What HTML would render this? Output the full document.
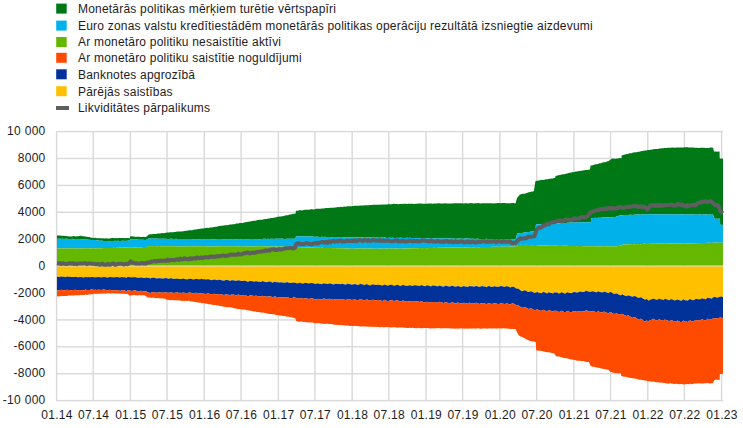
<!DOCTYPE html><html><head><meta charset="utf-8"><style>html,body{margin:0;padding:0;background:#fff;width:743px;height:428px;overflow:hidden}svg{display:block}text{font-family:"Liberation Sans",Arial,sans-serif;font-size:12px;fill:#1c1c1c;letter-spacing:0.2px}</style></head><body>
<svg width="743" height="428" viewBox="0 0 743 428">
<rect x="56.2" y="3.6" width="10.5" height="10" fill="#007816"/>
<text x="78" y="12.9">Monetārās politikas mērķiem turētie vērtspapīri</text>
<rect x="56.2" y="20.6" width="10.5" height="10" fill="#00b1ea"/>
<text x="78" y="29.9">Euro zonas valstu kredītiestādēm monetārās politikas operāciju rezultātā izsniegtie aizdevumi</text>
<rect x="56.2" y="37" width="10.5" height="10" fill="#65b800"/>
<text x="78" y="46.3">Ar monetāro politiku nesaistītie aktīvi</text>
<rect x="56.2" y="52.8" width="10.5" height="10" fill="#ff4b00"/>
<text x="78" y="62.1">Ar monetāro politiku saistītie noguldījumi</text>
<rect x="56.2" y="69.3" width="10.5" height="10" fill="#003299"/>
<text x="78" y="78.6">Banknotes apgrozībā</text>
<rect x="56.2" y="86.2" width="10.5" height="10" fill="#ffc000"/>
<text x="78" y="95.5">Pārējās saistības</text>
<rect x="56" y="106" width="13" height="4" fill="#5e5e5e"/>
<text x="78" y="112">Likviditātes pārpalikums</text>
<rect x="55.9" y="131" width="1.4" height="270" fill="#d9d9d9"/>
<rect x="92.52" y="131" width="1.4" height="270" fill="#d9d9d9"/>
<rect x="129.74" y="131" width="1.4" height="270" fill="#d9d9d9"/>
<rect x="166.36" y="131" width="1.4" height="270" fill="#d9d9d9"/>
<rect x="203.59" y="131" width="1.4" height="270" fill="#d9d9d9"/>
<rect x="240.41" y="131" width="1.4" height="270" fill="#d9d9d9"/>
<rect x="277.63" y="131" width="1.4" height="270" fill="#d9d9d9"/>
<rect x="314.25" y="131" width="1.4" height="270" fill="#d9d9d9"/>
<rect x="351.48" y="131" width="1.4" height="270" fill="#d9d9d9"/>
<rect x="388.1" y="131" width="1.4" height="270" fill="#d9d9d9"/>
<rect x="425.32" y="131" width="1.4" height="270" fill="#d9d9d9"/>
<rect x="461.94" y="131" width="1.4" height="270" fill="#d9d9d9"/>
<rect x="499.17" y="131" width="1.4" height="270" fill="#d9d9d9"/>
<rect x="535.99" y="131" width="1.4" height="270" fill="#d9d9d9"/>
<rect x="573.21" y="131" width="1.4" height="270" fill="#d9d9d9"/>
<rect x="609.83" y="131" width="1.4" height="270" fill="#d9d9d9"/>
<rect x="647.06" y="131" width="1.4" height="270" fill="#d9d9d9"/>
<rect x="683.67" y="131" width="1.4" height="270" fill="#d9d9d9"/>
<rect x="720.9" y="131" width="1.4" height="270" fill="#d9d9d9"/>
<rect x="56.5" y="130.9" width="666.5" height="1.4" fill="#d9d9d9"/>
<rect x="56.5" y="157.8" width="666.5" height="1.4" fill="#d9d9d9"/>
<rect x="56.5" y="184.7" width="666.5" height="1.4" fill="#d9d9d9"/>
<rect x="56.5" y="211.6" width="666.5" height="1.4" fill="#d9d9d9"/>
<rect x="56.5" y="238.5" width="666.5" height="1.4" fill="#d9d9d9"/>
<rect x="56.5" y="265.4" width="666.5" height="1.4" fill="#d9d9d9"/>
<rect x="56.5" y="292.3" width="666.5" height="1.4" fill="#d9d9d9"/>
<rect x="56.5" y="319.2" width="666.5" height="1.4" fill="#d9d9d9"/>
<rect x="56.5" y="346.1" width="666.5" height="1.4" fill="#d9d9d9"/>
<rect x="56.5" y="373" width="666.5" height="1.4" fill="#d9d9d9"/>
<rect x="56.5" y="399.9" width="666.5" height="1.4" fill="#d9d9d9"/>
<path d="M57,235.54 L58.42,235.46 L59.83,235.49 L61.25,235.87 L62.67,235.82 L64.08,236.04 L65.5,235.84 L66.92,236.26 L68.34,236.14 L69.75,236.45 L71.17,236.55 L71.3,236.55 L72.59,236.34 L74,236.08 L75.42,236.41 L76.84,236.16 L78.25,236.28 L79.67,235.95 L81,235.86 L81.09,235.87 L82.51,236.36 L83.92,236.36 L85.34,236.48 L86.76,236.78 L88.17,237.08 L88.6,237.06 L89.59,237.1 L91.01,237.64 L91.8,237.79 L92.43,237.81 L93.84,237.91 L95.26,237.8 L96.68,238.13 L98.09,238.25 L99.51,238.34 L100.93,238.17 L102.34,238.41 L103.76,238.34 L104,238.38 L105.18,238.54 L106.6,238.28 L107.6,238.56 L108.01,238.63 L109.43,238.53 L110.85,238.2 L112,238.1 L112.26,238.11 L113.68,238.12 L115.1,238.13 L116.52,237.91 L117.93,238.34 L119.35,238.02 L120.77,238.01 L122.18,237.98 L123.6,238.06 L125.02,238.31 L126.43,237.97 L127.85,238.01 L129.27,238.28 L129.8,238.2 L130.3,236.33 L130.69,236.28 L132.1,236.27 L133.52,236.59 L134.94,236.64 L136.35,236.68 L137.77,236.83 L139.19,236.63 L140.6,237.03 L142.02,237.02 L143.44,236.79 L144.85,236.89 L145.8,237.04 L146.27,236.68 L147.69,235.42 L148.5,234.64 L149.11,234.53 L150.52,234.3 L151.94,234.26 L153.36,233.98 L154.77,234.02 L156.19,233.98 L157.61,233.5 L159.03,233.52 L160.44,233.44 L161.86,233.02 L163.28,233.15 L164.69,233.03 L166.11,232.63 L166.8,232.56 L167.53,232.5 L168.94,232.57 L170.36,232.31 L171.78,232.14 L173.2,232.26 L174.61,232.07 L176.03,231.76 L177.45,231.6 L178.86,231.52 L180,231.46 L180.28,231.43 L181.7,231.49 L183.12,231.23 L184.53,231.09 L185.95,230.86 L187.37,230.69 L188.78,230.15 L190.2,230.17 L191.62,230.18 L193.03,229.98 L194.45,229.49 L195.87,229.38 L197.28,229.29 L198.7,228.99 L200.12,228.87 L201.54,228.49 L202.95,228.46 L204.37,228.31 L204.4,228.3 L205.79,227.89 L207.2,227.74 L208.62,227.9 L210.04,227.61 L211.46,227.48 L212.87,227.14 L214.29,227.01 L215.71,226.84 L217.12,226.64 L218.54,226.06 L219.96,226.12 L221.37,225.75 L222.79,225.73 L224.21,225.35 L225.63,225.26 L227.04,225.23 L228.46,224.89 L229.88,224.52 L231.29,224.44 L232.71,224.19 L234.13,224.22 L235.54,223.72 L236.96,223.52 L238.38,223.47 L239.8,223.04 L241.2,223.04 L241.21,223.04 L242.63,222.97 L244.05,222.54 L245.46,222.2 L246.88,222.06 L248.3,221.85 L249.72,221.45 L251.13,221.21 L252.55,220.98 L253.97,220.82 L255.38,220.64 L256.8,220.36 L258.22,220.1 L259.63,219.8 L261.05,219.77 L262.47,219.67 L263.88,219.34 L265.3,219.09 L266.72,218.89 L268.14,218.46 L269.55,218.46 L270.97,218.11 L272.39,217.92 L273.8,217.72 L275.22,217.42 L276.64,217.12 L278.06,216.86 L278.5,216.78 L279.47,216.6 L280.89,216.46 L282.31,216.15 L283.72,215.97 L285,215.51 L285.14,215.45 L286.56,215.29 L287.97,215.21 L289.39,214.62 L290.81,214.45 L292.23,214.11 L293.64,213.71 L295.06,213.71 L295.5,213.52 L296,210.81 L296.48,210.67 L297.89,210.75 L299.31,210.35 L300.73,210.18 L302.14,210.4 L303.56,210.08 L304.98,209.78 L306.4,209.8 L307.81,209.69 L309.23,209.69 L310.65,209.28 L312.06,209.2 L313.48,209.4 L314.9,209.17 L315.6,208.98 L316.31,208.79 L317.73,208.75 L319.15,208.64 L320.57,208.66 L321.98,208.52 L323.4,208.5 L324.82,208.37 L326.23,208.12 L327.65,208.1 L329.07,207.98 L330.49,207.87 L331.9,207.63 L333.32,207.64 L334.74,207.49 L336.15,207.47 L337.57,207 L338.99,207.21 L340.4,206.71 L341.82,206.93 L343.24,206.73 L344.65,206.57 L346.07,206.66 L347.49,206.37 L348.91,206.18 L350.32,206.22 L351.74,206.14 L352.7,205.98 L353.16,205.93 L354.57,205.76 L355.99,205.73 L357.41,205.66 L358.83,205.72 L360.24,205.46 L361.66,205.44 L363.08,205.44 L364.49,205.3 L365.91,205.21 L367.33,205.35 L368.75,205.31 L370.16,205.09 L371.58,205 L373,204.82 L374.41,204.81 L375.83,204.68 L377.25,204.8 L378.66,204.74 L380.08,204.45 L381.5,204.75 L382.92,204.43 L384.33,204.59 L385.75,204.52 L387.17,204.51 L388.58,204.11 L389.5,204.13 L390,204.15 L391.42,204.33 L392.83,203.89 L394.25,203.87 L395.67,204.05 L397.08,203.98 L398.5,204.13 L399.92,204.02 L400,204.01 L401.34,203.9 L402.75,204.08 L404.17,203.86 L405.59,203.84 L407,203.89 L408.42,203.75 L409.84,203.71 L411.25,203.8 L412.67,203.68 L414.09,203.92 L415.51,203.78 L416.92,203.7 L418.34,203.49 L419.76,203.6 L421.17,203.59 L422.59,203.64 L424.01,203.63 L425.43,203.75 L426.84,203.77 L428.26,203.54 L429.68,203.5 L431.09,203.57 L432.51,203.71 L433.93,203.41 L435.35,203.47 L436.76,203.58 L438.18,203.28 L439.6,203.33 L440,203.4 L441.01,203.61 L442.43,203.54 L443.85,203.39 L445.26,203.21 L446.68,203.55 L448.1,203.46 L449.51,203.51 L450.93,203.58 L452.35,203.53 L453.77,203.32 L455.18,203.2 L456.6,203.26 L458.02,203.35 L459.43,203.34 L460.85,203.2 L462.27,203.19 L463.69,203.38 L465.1,203.37 L466.52,203.25 L467.94,203.53 L469.35,203.37 L470.77,203.1 L472.19,203.26 L473.6,203.42 L475.02,203.21 L476.44,203.37 L477.86,203.07 L479.27,203.19 L480.69,203.43 L482.11,203.31 L483.52,203.34 L484.94,203.13 L486.36,203.26 L487.77,203.28 L489.19,203.15 L490.61,203.31 L492.03,203.25 L493.44,203.45 L494.86,203.26 L496.28,203.19 L497.69,203.06 L499.11,203.07 L500.53,203.33 L501.94,203.04 L503.36,203.03 L504.78,203.06 L505,203.08 L506.2,203.21 L507.61,203.34 L509.03,203.25 L510.45,203.33 L511.86,203.01 L513.28,202.99 L514.7,203.32 L515.6,203.19 L516.12,201.21 L517,198.03 L517.53,197.51 L518.95,195.79 L520,194.58 L520.37,194.46 L521.78,194.12 L523.2,193.67 L524.62,193.65 L526.03,193.13 L527.45,192.65 L528.87,192.32 L530.28,191.91 L531.7,191.39 L533.12,191.38 L533.9,191.1 L534.54,186.8 L535.4,181.14 L535.95,181.12 L537.37,180.67 L538.79,180.54 L540.2,180.16 L541.62,179.86 L543.04,180.03 L544.46,179.78 L545.87,179.33 L547.29,179.37 L548.71,179.12 L550.12,178.68 L551.54,178.6 L552.96,178.54 L554.37,178.12 L555.2,178.11 L555.5,176.06 L555.79,176.04 L557.21,175.42 L558.63,175.19 L560.04,175.03 L561.46,174.51 L562.88,174.25 L564.29,174.19 L565.71,173.72 L567.13,173.55 L568.54,173.01 L569.96,172.68 L571.38,172.46 L572.8,172.08 L574.21,172.13 L574.3,172.09 L575.63,171.6 L577.05,171.51 L578.46,171.09 L579.88,171.06 L581.3,170.78 L582.72,170.57 L584.13,170.21 L585.55,170.01 L586.97,170.11 L588.38,169.68 L589.8,169.42 L590,169.38 L590.5,165.68 L591.22,165.48 L592.63,165.17 L594.05,164.79 L595.47,164.34 L596.88,164.26 L598.3,163.76 L599.72,163.32 L601.14,163.2 L602.55,162.57 L603.97,162.29 L605.39,162.18 L606.8,161.51 L608.22,161.3 L608.3,161.28 L609.64,160.37 L611.05,159.21 L611.4,158.87 L612.47,158.62 L613.89,158.67 L615,158.76 L615.31,158.76 L616.72,158.46 L618.14,158.56 L619.56,158.08 L620.97,158.25 L621.5,158.13 L621.6,155.51 L622.39,155.21 L623.81,154.73 L625.23,154.48 L626.64,153.99 L628.06,153.89 L629.48,153.35 L630.89,153.28 L631.3,153.14 L632.31,152.86 L633.73,152.52 L635.14,152.22 L636.56,152.13 L637.98,151.71 L639.4,151.75 L640.81,151.17 L642.23,151.1 L643.65,150.87 L645.06,150.5 L646.48,150.47 L647.9,150.05 L648.5,150 L649.32,149.97 L650.73,149.76 L652.15,149.47 L653.57,149.33 L654.98,149.02 L656.4,148.89 L657.82,149.01 L659.23,148.61 L660.65,148.58 L662.07,148.16 L663.49,148.19 L664,148.1 L664.9,148 L666.32,147.99 L667.74,147.83 L669.15,147.66 L670.57,147.7 L671.99,147.59 L673.4,147.48 L674.82,147.67 L676.24,147.41 L677.65,147.39 L679.07,147.54 L680.4,147.42 L680.49,147.42 L681.91,147.47 L683.32,147.46 L684.74,147.14 L685,147.15 L686.16,147.25 L687.57,147.2 L688.99,147.55 L690.41,147.6 L691.83,147.53 L693.24,147.61 L694.66,147.78 L696.08,147.86 L696.7,147.8 L697.49,147.69 L698.91,147.95 L700.33,147.73 L701.75,147.86 L703.16,147.66 L704.58,147.63 L706,147.98 L707.41,147.9 L708.83,147.89 L710.25,147.6 L711.66,147.6 L713,147.65 L713.08,147.97 L714,151.56 L714.5,151.57 L715.91,151.61 L717.33,151.65 L718.75,151.5 L719.6,151.57 L719.7,158.58 L720.17,158.62 L721.58,158.76 L723,158.56 L723,224.89 L721.58,224.74 L720.17,224.84 L720.1,224.84 L720,218.74 L718.75,218.76 L717.33,218.72 L715.91,218.73 L714.5,218.71 L714.5,218.71 L713.08,214.79 L713,214.58 L711.66,214.71 L710.25,214.44 L708.83,214.68 L707.41,214.44 L706,214.44 L704.58,214.41 L703.16,214.49 L701.75,214.63 L700.33,214.58 L698.91,214.37 L697.49,214.7 L696.08,214.54 L694.66,214.67 L693.24,214.33 L691.83,214.49 L690.41,214.4 L688.99,214.52 L687.57,214.48 L686.16,214.41 L684.74,214.51 L683.32,214.3 L681.91,214.42 L680.49,214.29 L679.07,214.38 L677.65,214.5 L676.24,214.39 L674.82,214.47 L673.4,214.5 L671.99,214.34 L670.57,214.29 L669.15,214.54 L667.74,214.43 L666.32,214.51 L664.9,214.38 L663.49,214.25 L662.07,214.23 L660.65,214.29 L659.23,214.48 L657.82,214.45 L656.4,214.18 L654.98,214.36 L653.57,214.48 L652.15,214.39 L650.73,214.19 L650,214.27 L649.32,214.37 L647.9,214.49 L646.48,214.44 L645.06,214.33 L643.65,214.45 L642.23,214.42 L640.81,214.64 L639.4,214.52 L637.98,214.52 L636.56,214.51 L635.14,214.64 L633.73,214.68 L632.31,214.95 L630.89,214.84 L629.48,214.73 L628.06,215.06 L626.64,214.94 L625.23,215.11 L623.81,215 L622.39,215.26 L622,215.24 L620.97,215.39 L619.56,215.61 L618.14,215.94 L616.72,216.49 L615.31,216.97 L615,217.01 L613.89,216.93 L612.47,217.26 L611.3,217.24 L611.05,217.23 L609.64,217.36 L608.22,217.28 L606.8,217.35 L605.39,217.34 L603.97,217.45 L602.55,217.56 L601.14,217.73 L599.72,217.76 L598.3,217.83 L596.88,218.05 L595.47,217.81 L594.05,217.93 L592.63,218.07 L591.22,218.1 L591.2,218.1 L590.9,222.21 L589.8,222.22 L588.38,222.28 L586.97,222.33 L585.55,222.53 L584.13,222.3 L582.72,222.32 L581.3,222.24 L579.88,222.37 L578.46,222.44 L577.05,222.38 L575.63,222.5 L574.21,222.47 L572.8,222.56 L571.38,222.59 L570.4,222.48 L569.96,222.46 L568.54,222.68 L567.13,222.86 L565.71,222.92 L564.29,222.98 L562.88,222.88 L561.46,223 L560.04,223.18 L558.63,223.27 L557.21,223.4 L555.79,223.52 L554.37,223.57 L554,223.58 L552.96,223.58 L551.54,223.47 L550.12,223.89 L548.71,223.96 L547.29,223.88 L545.87,223.98 L544.46,223.94 L543.04,224.11 L541.62,224.11 L540.2,224.18 L538.79,224.41 L537.37,224.3 L536,224.34 L535.95,224.72 L535.2,231.02 L534.54,231.28 L533.12,231.31 L531.7,231.38 L530.28,231.72 L529.5,231.89 L528.87,232.01 L527.45,231.99 L526.03,232.3 L524.62,232.5 L523.2,232.75 L521.78,232.9 L520.37,233.05 L518.95,233.16 L517.53,233.31 L517.3,233.37 L516.12,237.51 L515.6,239.27 L514.7,239.34 L513.28,239.1 L511.86,239.14 L510.45,239.05 L509.03,239.24 L507.61,239.33 L506.2,239.16 L505,239.3 L504.78,239.32 L503.36,239.06 L501.94,239.15 L500.53,239.11 L499.11,239.19 L497.69,239.22 L496.28,238.98 L494.86,238.91 L493.44,239.16 L492.03,239.17 L490.61,239.02 L489.19,238.88 L487.77,238.93 L486.36,238.79 L484.94,239.11 L483.52,239.05 L482.11,238.98 L480.69,238.91 L479.27,239.02 L477.86,238.74 L476.44,238.8 L475.02,238.9 L473.6,238.74 L472.19,238.81 L470.77,238.66 L469.35,238.87 L467.94,238.6 L466.52,238.55 L465.1,238.57 L463.69,238.72 L462.27,238.79 L460.85,238.63 L459.43,238.53 L458.02,238.53 L456.6,238.66 L455.18,238.74 L453.77,238.43 L452.35,238.66 L450.93,238.55 L449.51,238.37 L448.1,238.53 L446.68,238.31 L445.26,238.54 L443.85,238.6 L442.43,238.51 L441.01,238.36 L439.6,238.25 L438.18,238.49 L436.76,238.42 L435.35,238.43 L433.93,238.26 L432.51,238.39 L431.09,238.17 L429.68,238.4 L428.26,238.4 L426.84,238.26 L425.43,238.35 L424.01,238.24 L422.59,238.32 L421.17,238.14 L419.76,238.22 L418.34,238.06 L416.92,238.01 L415.51,238.13 L414.09,237.9 L412.67,238.01 L411.25,237.94 L409.84,237.86 L408.42,238.1 L407,237.86 L405.59,238.07 L404.17,237.97 L402.75,238.1 L401.34,237.8 L400,237.86 L399.92,237.86 L398.5,238 L397.08,237.73 L395.67,237.93 L394.25,238.02 L392.83,237.69 L391.42,237.9 L390,237.87 L388.58,237.8 L387.17,237.9 L385.75,237.73 L384.33,237.58 L382.92,237.69 L381.5,237.55 L380.08,237.72 L378.66,237.68 L377.25,237.52 L375.83,237.67 L374.41,237.53 L373,237.63 L371.58,237.6 L370.16,237.5 L368.75,237.58 L367.33,237.41 L365.91,237.45 L364.49,237.65 L363.08,237.37 L361.66,237.51 L360.24,237.62 L358.83,237.35 L357.41,237.31 L355.99,237.4 L354.57,237.44 L353.16,237.42 L352.7,237.4 L351.74,237.35 L350.32,237.38 L348.91,237.28 L347.49,237.36 L346.07,237.13 L344.65,237.23 L343.24,237.29 L341.82,237.08 L340.4,237 L338.99,237.28 L337.57,237.06 L336.15,237.02 L334.74,237.11 L333.32,237.03 L331.9,237.17 L330.49,237.01 L329.07,236.88 L327.65,236.97 L326.23,236.96 L324.82,236.72 L323.4,236.96 L321.98,236.86 L320.57,236.96 L319.15,236.94 L317.73,236.87 L316.31,236.86 L315.6,236.86 L314.9,236.86 L313.48,236.65 L312.06,236.58 L310.65,236.47 L309.23,236.49 L307.81,236.53 L306.4,236.58 L304.98,236.52 L303.56,236.44 L302.14,236.37 L300.73,236.62 L299.31,236.57 L297.89,236.49 L296.48,236.39 L296,236.37 L295.5,238.65 L295.06,238.64 L293.64,238.68 L292.23,238.72 L290.81,238.79 L289.39,238.66 L287.97,238.72 L286.56,238.86 L285.14,238.89 L283.72,238.89 L282.31,238.6 L280.89,238.87 L279.47,238.68 L278.5,238.75 L278.06,238.78 L276.64,238.65 L275.22,238.69 L273.8,239.02 L272.39,238.85 L270.97,238.76 L269.55,238.96 L268.14,238.76 L266.72,238.96 L265.3,238.87 L263.88,238.83 L262.47,238.97 L261.05,238.99 L259.63,239.16 L258.22,239.16 L256.8,239.11 L255.38,239.16 L253.97,239.11 L252.55,239.1 L251.13,238.93 L249.72,239.01 L248.3,239.24 L246.88,239.09 L245.46,239.17 L244.05,239.12 L242.63,239.12 L241.21,239.32 L241.2,239.32 L239.8,239.09 L238.38,239.14 L236.96,239.29 L235.54,239.32 L234.13,239.3 L232.71,239.08 L231.29,239.35 L229.88,239.32 L228.46,239.25 L227.04,239.09 L225.63,239.13 L224.21,239.32 L222.79,239.3 L221.37,239.03 L219.96,239.07 L218.54,239.11 L217.12,239.11 L215.71,239.25 L214.29,239.36 L212.87,239.25 L211.46,239.25 L210.04,239.35 L208.62,239.02 L207.2,239.22 L205.79,239.09 L204.4,239.17 L204.37,239.18 L202.95,239.19 L201.54,239.04 L200.12,239.19 L198.7,239.33 L197.28,239.23 L195.87,238.99 L194.45,239.22 L193.03,239.3 L191.62,238.94 L190.2,238.95 L188.78,238.97 L187.37,239.03 L185.95,239.06 L184.53,239 L183.12,238.92 L181.7,239.03 L180.28,239.11 L178.86,238.92 L177.45,238.94 L176.03,238.85 L175,238.88 L174.61,238.89 L173.2,238.92 L171.78,238.86 L170.36,238.77 L168.94,239 L167.53,238.95 L166.11,238.82 L164.69,238.84 L163.28,238.84 L161.86,238.63 L160.44,238.82 L159.03,238.72 L157.61,238.79 L156.19,238.59 L154.77,238.64 L153.36,238.46 L151.94,238.7 L150.52,238.47 L149.11,238.46 L148.5,238.54 L147.69,239.08 L146.27,239.64 L145.8,239.89 L144.85,239.88 L143.44,239.75 L142.02,239.71 L140.6,239.83 L139.19,239.8 L137.77,239.56 L136.35,239.59 L134.94,239.51 L133.52,239.55 L132.1,239.5 L130.69,239.35 L130.3,239.36 L129.8,240.58 L129.27,240.62 L127.85,240.74 L126.43,240.79 L125.02,240.92 L123.6,240.79 L122.18,240.7 L120.77,240.91 L119.35,240.89 L117.93,240.67 L116.52,240.94 L115.1,240.73 L113.68,241.04 L112.26,240.9 L112,240.9 L110.85,240.95 L109.43,241.15 L108.01,241.01 L107.6,241.08 L106.6,241.1 L105.18,241.04 L103.76,241 L102.34,240.85 L100.93,240.71 L99.51,240.68 L98.09,240.38 L96.68,240.45 L95.26,240.02 L93.84,239.97 L92.43,240.05 L91.01,239.9 L89.7,239.67 L89.59,239.66 L88.17,239.68 L86.76,239.38 L85.34,239.54 L83.92,239.52 L82.51,239.18 L81.09,239.31 L81,239.29 L79.67,239.03 L78.25,239.05 L76.84,238.95 L75.42,239.12 L74,239.18 L72.59,238.86 L71.17,238.92 L69.75,239.07 L68.34,239.06 L66.92,238.73 L65.5,238.82 L64.08,238.91 L62.67,238.79 L61.25,238.7 L59.83,238.84 L58.42,238.75 L57,238.82Z" fill="#007816"/>
<path d="M57,238.82 L58.42,238.75 L59.83,238.84 L61.25,238.7 L62.67,238.79 L64.08,238.91 L65.5,238.82 L66.92,238.73 L68.34,239.06 L69.75,239.07 L71.17,238.92 L72.59,238.86 L74,239.18 L75.42,239.12 L76.84,238.95 L78.25,239.05 L79.67,239.03 L81,239.29 L81.09,239.31 L82.51,239.18 L83.92,239.52 L85.34,239.54 L86.76,239.38 L88.17,239.68 L89.59,239.66 L89.7,239.67 L91.01,239.9 L92.43,240.05 L93.84,239.97 L95.26,240.02 L96.68,240.45 L98.09,240.38 L99.51,240.68 L100.93,240.71 L102.34,240.85 L103.76,241 L105.18,241.04 L106.6,241.1 L107.6,241.08 L108.01,241.01 L109.43,241.15 L110.85,240.95 L112,240.9 L112.26,240.9 L113.68,241.04 L115.1,240.73 L116.52,240.94 L117.93,240.67 L119.35,240.89 L120.77,240.91 L122.18,240.7 L123.6,240.79 L125.02,240.92 L126.43,240.79 L127.85,240.74 L129.27,240.62 L129.8,240.58 L130.3,239.36 L130.69,239.35 L132.1,239.5 L133.52,239.55 L134.94,239.51 L136.35,239.59 L137.77,239.56 L139.19,239.8 L140.6,239.83 L142.02,239.71 L143.44,239.75 L144.85,239.88 L145.8,239.89 L146.27,239.64 L147.69,239.08 L148.5,238.54 L149.11,238.46 L150.52,238.47 L151.94,238.7 L153.36,238.46 L154.77,238.64 L156.19,238.59 L157.61,238.79 L159.03,238.72 L160.44,238.82 L161.86,238.63 L163.28,238.84 L164.69,238.84 L166.11,238.82 L167.53,238.95 L168.94,239 L170.36,238.77 L171.78,238.86 L173.2,238.92 L174.61,238.89 L175,238.88 L176.03,238.85 L177.45,238.94 L178.86,238.92 L180.28,239.11 L181.7,239.03 L183.12,238.92 L184.53,239 L185.95,239.06 L187.37,239.03 L188.78,238.97 L190.2,238.95 L191.62,238.94 L193.03,239.3 L194.45,239.22 L195.87,238.99 L197.28,239.23 L198.7,239.33 L200.12,239.19 L201.54,239.04 L202.95,239.19 L204.37,239.18 L204.4,239.17 L205.79,239.09 L207.2,239.22 L208.62,239.02 L210.04,239.35 L211.46,239.25 L212.87,239.25 L214.29,239.36 L215.71,239.25 L217.12,239.11 L218.54,239.11 L219.96,239.07 L221.37,239.03 L222.79,239.3 L224.21,239.32 L225.63,239.13 L227.04,239.09 L228.46,239.25 L229.88,239.32 L231.29,239.35 L232.71,239.08 L234.13,239.3 L235.54,239.32 L236.96,239.29 L238.38,239.14 L239.8,239.09 L241.2,239.32 L241.21,239.32 L242.63,239.12 L244.05,239.12 L245.46,239.17 L246.88,239.09 L248.3,239.24 L249.72,239.01 L251.13,238.93 L252.55,239.1 L253.97,239.11 L255.38,239.16 L256.8,239.11 L258.22,239.16 L259.63,239.16 L261.05,238.99 L262.47,238.97 L263.88,238.83 L265.3,238.87 L266.72,238.96 L268.14,238.76 L269.55,238.96 L270.97,238.76 L272.39,238.85 L273.8,239.02 L275.22,238.69 L276.64,238.65 L278.06,238.78 L278.5,238.75 L279.47,238.68 L280.89,238.87 L282.31,238.6 L283.72,238.89 L285.14,238.89 L286.56,238.86 L287.97,238.72 L289.39,238.66 L290.81,238.79 L292.23,238.72 L293.64,238.68 L295.06,238.64 L295.5,238.65 L296,236.37 L296.48,236.39 L297.89,236.49 L299.31,236.57 L300.73,236.62 L302.14,236.37 L303.56,236.44 L304.98,236.52 L306.4,236.58 L307.81,236.53 L309.23,236.49 L310.65,236.47 L312.06,236.58 L313.48,236.65 L314.9,236.86 L315.6,236.86 L316.31,236.86 L317.73,236.87 L319.15,236.94 L320.57,236.96 L321.98,236.86 L323.4,236.96 L324.82,236.72 L326.23,236.96 L327.65,236.97 L329.07,236.88 L330.49,237.01 L331.9,237.17 L333.32,237.03 L334.74,237.11 L336.15,237.02 L337.57,237.06 L338.99,237.28 L340.4,237 L341.82,237.08 L343.24,237.29 L344.65,237.23 L346.07,237.13 L347.49,237.36 L348.91,237.28 L350.32,237.38 L351.74,237.35 L352.7,237.4 L353.16,237.42 L354.57,237.44 L355.99,237.4 L357.41,237.31 L358.83,237.35 L360.24,237.62 L361.66,237.51 L363.08,237.37 L364.49,237.65 L365.91,237.45 L367.33,237.41 L368.75,237.58 L370.16,237.5 L371.58,237.6 L373,237.63 L374.41,237.53 L375.83,237.67 L377.25,237.52 L378.66,237.68 L380.08,237.72 L381.5,237.55 L382.92,237.69 L384.33,237.58 L385.75,237.73 L387.17,237.9 L388.58,237.8 L390,237.87 L391.42,237.9 L392.83,237.69 L394.25,238.02 L395.67,237.93 L397.08,237.73 L398.5,238 L399.92,237.86 L400,237.86 L401.34,237.8 L402.75,238.1 L404.17,237.97 L405.59,238.07 L407,237.86 L408.42,238.1 L409.84,237.86 L411.25,237.94 L412.67,238.01 L414.09,237.9 L415.51,238.13 L416.92,238.01 L418.34,238.06 L419.76,238.22 L421.17,238.14 L422.59,238.32 L424.01,238.24 L425.43,238.35 L426.84,238.26 L428.26,238.4 L429.68,238.4 L431.09,238.17 L432.51,238.39 L433.93,238.26 L435.35,238.43 L436.76,238.42 L438.18,238.49 L439.6,238.25 L441.01,238.36 L442.43,238.51 L443.85,238.6 L445.26,238.54 L446.68,238.31 L448.1,238.53 L449.51,238.37 L450.93,238.55 L452.35,238.66 L453.77,238.43 L455.18,238.74 L456.6,238.66 L458.02,238.53 L459.43,238.53 L460.85,238.63 L462.27,238.79 L463.69,238.72 L465.1,238.57 L466.52,238.55 L467.94,238.6 L469.35,238.87 L470.77,238.66 L472.19,238.81 L473.6,238.74 L475.02,238.9 L476.44,238.8 L477.86,238.74 L479.27,239.02 L480.69,238.91 L482.11,238.98 L483.52,239.05 L484.94,239.11 L486.36,238.79 L487.77,238.93 L489.19,238.88 L490.61,239.02 L492.03,239.17 L493.44,239.16 L494.86,238.91 L496.28,238.98 L497.69,239.22 L499.11,239.19 L500.53,239.11 L501.94,239.15 L503.36,239.06 L504.78,239.32 L505,239.3 L506.2,239.16 L507.61,239.33 L509.03,239.24 L510.45,239.05 L511.86,239.14 L513.28,239.1 L514.7,239.34 L515.6,239.27 L516.12,237.51 L517.3,233.37 L517.53,233.31 L518.95,233.16 L520.37,233.05 L521.78,232.9 L523.2,232.75 L524.62,232.5 L526.03,232.3 L527.45,231.99 L528.87,232.01 L529.5,231.89 L530.28,231.72 L531.7,231.38 L533.12,231.31 L534.54,231.28 L535.2,231.02 L535.95,224.72 L536,224.34 L537.37,224.3 L538.79,224.41 L540.2,224.18 L541.62,224.11 L543.04,224.11 L544.46,223.94 L545.87,223.98 L547.29,223.88 L548.71,223.96 L550.12,223.89 L551.54,223.47 L552.96,223.58 L554,223.58 L554.37,223.57 L555.79,223.52 L557.21,223.4 L558.63,223.27 L560.04,223.18 L561.46,223 L562.88,222.88 L564.29,222.98 L565.71,222.92 L567.13,222.86 L568.54,222.68 L569.96,222.46 L570.4,222.48 L571.38,222.59 L572.8,222.56 L574.21,222.47 L575.63,222.5 L577.05,222.38 L578.46,222.44 L579.88,222.37 L581.3,222.24 L582.72,222.32 L584.13,222.3 L585.55,222.53 L586.97,222.33 L588.38,222.28 L589.8,222.22 L590.9,222.21 L591.2,218.1 L591.22,218.1 L592.63,218.07 L594.05,217.93 L595.47,217.81 L596.88,218.05 L598.3,217.83 L599.72,217.76 L601.14,217.73 L602.55,217.56 L603.97,217.45 L605.39,217.34 L606.8,217.35 L608.22,217.28 L609.64,217.36 L611.05,217.23 L611.3,217.24 L612.47,217.26 L613.89,216.93 L615,217.01 L615.31,216.97 L616.72,216.49 L618.14,215.94 L619.56,215.61 L620.97,215.39 L622,215.24 L622.39,215.26 L623.81,215 L625.23,215.11 L626.64,214.94 L628.06,215.06 L629.48,214.73 L630.89,214.84 L632.31,214.95 L633.73,214.68 L635.14,214.64 L636.56,214.51 L637.98,214.52 L639.4,214.52 L640.81,214.64 L642.23,214.42 L643.65,214.45 L645.06,214.33 L646.48,214.44 L647.9,214.49 L649.32,214.37 L650,214.27 L650.73,214.19 L652.15,214.39 L653.57,214.48 L654.98,214.36 L656.4,214.18 L657.82,214.45 L659.23,214.48 L660.65,214.29 L662.07,214.23 L663.49,214.25 L664.9,214.38 L666.32,214.51 L667.74,214.43 L669.15,214.54 L670.57,214.29 L671.99,214.34 L673.4,214.5 L674.82,214.47 L676.24,214.39 L677.65,214.5 L679.07,214.38 L680.49,214.29 L681.91,214.42 L683.32,214.3 L684.74,214.51 L686.16,214.41 L687.57,214.48 L688.99,214.52 L690.41,214.4 L691.83,214.49 L693.24,214.33 L694.66,214.67 L696.08,214.54 L697.49,214.7 L698.91,214.37 L700.33,214.58 L701.75,214.63 L703.16,214.49 L704.58,214.41 L706,214.44 L707.41,214.44 L708.83,214.68 L710.25,214.44 L711.66,214.71 L713,214.58 L713.08,214.79 L714.5,218.71 L714.5,218.71 L715.91,218.73 L717.33,218.72 L718.75,218.76 L720,218.74 L720.1,224.84 L720.17,224.84 L721.58,224.74 L723,224.89 L723,242.63 L721.58,242.49 L720.17,242.71 L718.75,242.63 L717.33,242.49 L715.91,242.8 L714.5,242.62 L713.08,242.84 L711.66,242.89 L710.25,242.73 L708.83,242.73 L707.41,242.75 L706,242.91 L704.58,242.97 L703.16,243.08 L701.75,243 L700.33,242.91 L698.91,243.2 L697.49,243.1 L696.08,243.21 L694.66,243.13 L693.24,243.14 L691.83,243.25 L690.41,243.4 L688.99,243.45 L687.57,243.47 L686.16,243.26 L685,243.46 L684.74,243.5 L683.32,243.3 L681.91,243.49 L680.49,243.43 L679.07,243.53 L677.65,243.47 L676.24,243.37 L674.82,243.53 L673.4,243.44 L671.99,243.59 L670.57,243.52 L669.15,243.43 L667.74,243.56 L666.32,243.75 L664.9,243.71 L663.49,243.53 L662.07,243.75 L660.65,243.61 L659.23,243.81 L657.82,243.59 L656.4,243.73 L654.98,243.68 L653.57,243.77 L652.15,243.68 L650.73,243.71 L649.32,243.89 L648.6,243.78 L647.9,243.68 L646.48,243.92 L645.06,243.76 L643.65,243.83 L642.23,244.03 L640.81,244.13 L639.4,243.98 L637.98,244.14 L636.56,244.1 L635.14,244.3 L633.73,244.29 L632.31,244.12 L630.89,244.16 L629.48,244.23 L628.06,244.48 L626.64,244.29 L625.23,244.54 L623.81,244.39 L622.8,244.43 L622.39,244.68 L621.3,245.43 L620.97,245.5 L619.56,245.73 L618.14,245.9 L616.72,246.22 L615.31,246.37 L615,246.44 L613.89,246.52 L612.47,246.29 L611.05,246.4 L609.64,246.23 L608.22,246.46 L606.8,246.21 L605.39,246.37 L603.97,246.3 L602.55,246.18 L601.14,246.41 L599.72,246.27 L598.3,246.41 L596.88,246.26 L595.47,246.29 L594.05,246.34 L592.63,246.3 L591.22,246.17 L589.8,246.31 L588.38,246.14 L587,246.15 L586.97,246.15 L585.55,246.2 L584.13,246.13 L582.72,246.14 L581.3,246.05 L579.88,245.95 L578.46,246.08 L577.05,246.17 L575.63,245.93 L574.21,246.09 L572.8,245.93 L571.38,245.98 L569.96,245.92 L568.54,245.89 L567.13,245.84 L565.71,245.87 L564.29,245.7 L562.88,245.72 L561.46,245.72 L560.04,245.88 L558.63,245.84 L557.21,245.83 L555.79,245.64 L554.37,245.54 L552.96,245.63 L551.54,245.64 L550.12,245.63 L548.71,245.69 L547.29,245.49 L545.87,245.49 L544.46,245.45 L543.04,245.43 L541.62,245.62 L540.2,245.3 L538.79,245.43 L537.37,245.36 L537,245.34 L535.95,245.08 L535,245.04 L534.54,245.11 L533.12,245.1 L531.7,245.15 L530.28,245.03 L528.87,244.98 L527.45,245.06 L526.03,244.87 L524.62,244.99 L523.2,245.06 L521.78,245.05 L520.37,244.87 L518.95,245.02 L518,245.06 L517.53,245.39 L516.12,246.13 L515.6,246.48 L514.7,246.48 L513.28,246.7 L511.86,246.47 L510.45,246.52 L509.03,246.49 L507.61,246.68 L506.2,246.68 L505,246.63 L504.78,246.62 L503.36,246.68 L501.94,246.52 L500.53,246.65 L499.11,246.78 L497.69,246.78 L496.28,246.86 L494.86,246.79 L493.44,246.81 L492.03,246.82 L490.61,246.98 L489.19,246.88 L487.77,246.89 L486.36,247.04 L484.94,246.95 L483.52,246.98 L482.11,247.04 L480.69,246.9 L479.27,247.14 L477.86,247.21 L476.44,247.12 L475.02,247.15 L473.6,247.13 L472.19,247.27 L470.77,247.09 L469.35,247.2 L467.94,247.32 L466.52,247.26 L465.1,247.39 L463.69,247.49 L462.27,247.28 L460.85,247.53 L459.43,247.45 L458.02,247.42 L456.6,247.44 L455.18,247.6 L453.77,247.58 L452.35,247.53 L450.93,247.52 L450,247.62 L449.51,247.67 L448.1,247.6 L446.68,247.65 L445.26,247.56 L443.85,247.68 L442.43,247.79 L441.01,247.87 L439.6,247.79 L438.18,247.75 L436.76,247.97 L435.35,247.93 L433.93,247.8 L432.51,248.05 L431.09,247.9 L429.68,247.95 L428.26,247.97 L426.84,248.13 L425.43,248 L424.01,247.99 L422.59,248.17 L421.17,248.09 L419.76,248.06 L418.34,248.2 L416.92,248.21 L415.51,248.25 L414.09,248.24 L412.67,248.35 L411.25,248.33 L409.84,248.46 L408.42,248.33 L407,248.54 L405.59,248.58 L404.17,248.51 L402.75,248.53 L401.34,248.63 L400,248.74 L399.92,248.75 L398.5,248.57 L397.08,248.48 L395.67,248.59 L394.25,248.61 L392.83,248.69 L391.42,248.56 L390,248.48 L388.58,248.53 L387.17,248.5 L385.75,248.49 L384.33,248.7 L382.92,248.7 L381.5,248.56 L380.08,248.46 L378.66,248.71 L377.25,248.72 L375.83,248.7 L374.41,248.64 L373,248.59 L371.58,248.7 L370.16,248.5 L368.75,248.52 L367.33,248.69 L365.91,248.61 L364.49,248.61 L363.08,248.61 L361.66,248.73 L360.24,248.49 L358.83,248.52 L357.41,248.59 L355.99,248.61 L354.57,248.67 L353.16,248.59 L352.7,248.63 L351.74,248.7 L350.32,248.47 L348.91,248.53 L347.49,248.38 L346.07,248.43 L344.65,248.42 L343.24,248.29 L341.82,248.36 L340.4,248.3 L338.99,248.24 L337.57,248.16 L336.15,248.22 L334.74,248.08 L333.32,248.15 L331.9,248.08 L330.49,247.92 L329.07,248.11 L327.65,247.95 L326.23,247.89 L324.82,247.95 L323.4,247.88 L321.98,247.62 L320.57,247.88 L319.15,247.64 L317.73,247.67 L316.31,247.66 L315.6,247.6 L314.9,247.53 L313.48,247.6 L312.06,247.38 L310.65,247.6 L309.23,247.52 L307.81,247.51 L306.4,247.25 L304.98,247.24 L303.56,247.22 L302.14,247.22 L300.73,247.26 L299.31,247.12 L297.89,247.28 L296.48,247.15 L295.8,247.05 L295.06,246.92 L293.64,247.16 L292.23,246.85 L290.81,246.87 L289.39,246.81 L287.97,246.75 L286.56,246.87 L285.14,246.64 L283.72,246.56 L282.31,246.52 L280.89,246.56 L279.47,246.55 L278.5,246.53 L278.06,246.54 L276.64,246.46 L275.22,246.41 L273.8,246.41 L272.39,246.45 L270.97,246.46 L269.55,246.25 L268.14,246.36 L266.72,246.42 L265.3,246.37 L263.88,246.4 L262.47,246.26 L261.05,246.27 L259.63,246.33 L258.22,246.3 L256.8,246.33 L255.38,246.47 L253.97,246.51 L252.55,246.54 L251.13,246.31 L249.72,246.35 L248.3,246.53 L246.88,246.4 L245.46,246.36 L244.05,246.28 L242.63,246.4 L241.21,246.47 L241.2,246.47 L239.8,246.29 L238.38,246.45 L236.96,246.29 L235.54,246.36 L234.13,246.27 L232.71,246.37 L231.29,246.26 L229.88,246.48 L228.46,246.31 L227.04,246.51 L225.63,246.21 L224.21,246.24 L222.79,246.33 L221.37,246.27 L219.96,246.34 L218.54,246.2 L217.12,246.39 L215.71,246.42 L214.29,246.25 L212.87,246.18 L211.46,246.46 L210.04,246.43 L208.62,246.38 L207.2,246.43 L205.79,246.26 L204.4,246.18 L204.37,246.18 L202.95,246.35 L201.54,246.2 L200.12,246.18 L198.7,246.37 L197.28,246.2 L195.87,246.42 L194.45,246.15 L193.03,246.44 L191.62,246.18 L190.2,246.16 L188.78,246.24 L187.37,246.45 L185.95,246.41 L184.53,246.2 L183.12,246.41 L181.7,246.38 L180.28,246.26 L178.86,246.42 L177.45,246.21 L176.03,246.41 L175,246.35 L174.61,246.32 L173.2,246.27 L171.78,246.3 L170.36,246.32 L168.94,246.15 L167.53,246.36 L166.11,246.23 L164.69,246.17 L163.28,246.15 L161.86,246.3 L160.44,246.27 L159.03,246.11 L157.61,246.28 L156.19,246.27 L154.77,246.04 L153.36,246.16 L151.94,246.04 L150.52,246.26 L149.11,246.04 L148.5,246.08 L147.69,246.44 L146.27,247 L145.8,247.12 L144.85,247.03 L143.44,247.07 L142.02,247.15 L140.6,247.13 L139.19,247.16 L137.77,247.17 L136.35,247.32 L134.94,247.45 L133.52,247.47 L132.1,247.34 L130.69,247.42 L130.5,247.4 L129.27,247.3 L127.85,247.58 L126.43,247.48 L125.02,247.59 L123.6,247.45 L122.18,247.69 L120.77,247.54 L119.35,247.82 L117.93,247.68 L116.52,247.76 L115.1,247.9 L113.68,247.8 L112.26,247.93 L110.85,247.92 L109.43,248.11 L108.01,247.92 L106.6,248.12 L105.18,247.93 L103.76,248.01 L102.34,248.28 L100.93,248.26 L99.51,248.13 L98.09,248.16 L96.68,248.26 L95.26,248.47 L93.84,248.28 L93,248.37 L92.43,248.42 L91.01,248.4 L89.59,248.27 L88.17,248.29 L86.76,248.26 L85.34,248.28 L83.92,248.48 L82.51,248.32 L81.09,248.55 L79.67,248.36 L78.25,248.48 L76.84,248.45 L75.42,248.39 L74,248.25 L72.59,248.29 L71.17,248.53 L69.75,248.41 L68.34,248.33 L66.92,248.39 L65.5,248.54 L64.08,248.48 L62.67,248.34 L61.25,248.48 L59.83,248.48 L58.42,248.46 L57,248.33Z" fill="#00b1ea"/>
<path d="M57,248.33 L58.42,248.46 L59.83,248.48 L61.25,248.48 L62.67,248.34 L64.08,248.48 L65.5,248.54 L66.92,248.39 L68.34,248.33 L69.75,248.41 L71.17,248.53 L72.59,248.29 L74,248.25 L75.42,248.39 L76.84,248.45 L78.25,248.48 L79.67,248.36 L81.09,248.55 L82.51,248.32 L83.92,248.48 L85.34,248.28 L86.76,248.26 L88.17,248.29 L89.59,248.27 L91.01,248.4 L92.43,248.42 L93,248.37 L93.84,248.28 L95.26,248.47 L96.68,248.26 L98.09,248.16 L99.51,248.13 L100.93,248.26 L102.34,248.28 L103.76,248.01 L105.18,247.93 L106.6,248.12 L108.01,247.92 L109.43,248.11 L110.85,247.92 L112.26,247.93 L113.68,247.8 L115.1,247.9 L116.52,247.76 L117.93,247.68 L119.35,247.82 L120.77,247.54 L122.18,247.69 L123.6,247.45 L125.02,247.59 L126.43,247.48 L127.85,247.58 L129.27,247.3 L130.5,247.4 L130.69,247.42 L132.1,247.34 L133.52,247.47 L134.94,247.45 L136.35,247.32 L137.77,247.17 L139.19,247.16 L140.6,247.13 L142.02,247.15 L143.44,247.07 L144.85,247.03 L145.8,247.12 L146.27,247 L147.69,246.44 L148.5,246.08 L149.11,246.04 L150.52,246.26 L151.94,246.04 L153.36,246.16 L154.77,246.04 L156.19,246.27 L157.61,246.28 L159.03,246.11 L160.44,246.27 L161.86,246.3 L163.28,246.15 L164.69,246.17 L166.11,246.23 L167.53,246.36 L168.94,246.15 L170.36,246.32 L171.78,246.3 L173.2,246.27 L174.61,246.32 L175,246.35 L176.03,246.41 L177.45,246.21 L178.86,246.42 L180.28,246.26 L181.7,246.38 L183.12,246.41 L184.53,246.2 L185.95,246.41 L187.37,246.45 L188.78,246.24 L190.2,246.16 L191.62,246.18 L193.03,246.44 L194.45,246.15 L195.87,246.42 L197.28,246.2 L198.7,246.37 L200.12,246.18 L201.54,246.2 L202.95,246.35 L204.37,246.18 L204.4,246.18 L205.79,246.26 L207.2,246.43 L208.62,246.38 L210.04,246.43 L211.46,246.46 L212.87,246.18 L214.29,246.25 L215.71,246.42 L217.12,246.39 L218.54,246.2 L219.96,246.34 L221.37,246.27 L222.79,246.33 L224.21,246.24 L225.63,246.21 L227.04,246.51 L228.46,246.31 L229.88,246.48 L231.29,246.26 L232.71,246.37 L234.13,246.27 L235.54,246.36 L236.96,246.29 L238.38,246.45 L239.8,246.29 L241.2,246.47 L241.21,246.47 L242.63,246.4 L244.05,246.28 L245.46,246.36 L246.88,246.4 L248.3,246.53 L249.72,246.35 L251.13,246.31 L252.55,246.54 L253.97,246.51 L255.38,246.47 L256.8,246.33 L258.22,246.3 L259.63,246.33 L261.05,246.27 L262.47,246.26 L263.88,246.4 L265.3,246.37 L266.72,246.42 L268.14,246.36 L269.55,246.25 L270.97,246.46 L272.39,246.45 L273.8,246.41 L275.22,246.41 L276.64,246.46 L278.06,246.54 L278.5,246.53 L279.47,246.55 L280.89,246.56 L282.31,246.52 L283.72,246.56 L285.14,246.64 L286.56,246.87 L287.97,246.75 L289.39,246.81 L290.81,246.87 L292.23,246.85 L293.64,247.16 L295.06,246.92 L295.8,247.05 L296.48,247.15 L297.89,247.28 L299.31,247.12 L300.73,247.26 L302.14,247.22 L303.56,247.22 L304.98,247.24 L306.4,247.25 L307.81,247.51 L309.23,247.52 L310.65,247.6 L312.06,247.38 L313.48,247.6 L314.9,247.53 L315.6,247.6 L316.31,247.66 L317.73,247.67 L319.15,247.64 L320.57,247.88 L321.98,247.62 L323.4,247.88 L324.82,247.95 L326.23,247.89 L327.65,247.95 L329.07,248.11 L330.49,247.92 L331.9,248.08 L333.32,248.15 L334.74,248.08 L336.15,248.22 L337.57,248.16 L338.99,248.24 L340.4,248.3 L341.82,248.36 L343.24,248.29 L344.65,248.42 L346.07,248.43 L347.49,248.38 L348.91,248.53 L350.32,248.47 L351.74,248.7 L352.7,248.63 L353.16,248.59 L354.57,248.67 L355.99,248.61 L357.41,248.59 L358.83,248.52 L360.24,248.49 L361.66,248.73 L363.08,248.61 L364.49,248.61 L365.91,248.61 L367.33,248.69 L368.75,248.52 L370.16,248.5 L371.58,248.7 L373,248.59 L374.41,248.64 L375.83,248.7 L377.25,248.72 L378.66,248.71 L380.08,248.46 L381.5,248.56 L382.92,248.7 L384.33,248.7 L385.75,248.49 L387.17,248.5 L388.58,248.53 L390,248.48 L391.42,248.56 L392.83,248.69 L394.25,248.61 L395.67,248.59 L397.08,248.48 L398.5,248.57 L399.92,248.75 L400,248.74 L401.34,248.63 L402.75,248.53 L404.17,248.51 L405.59,248.58 L407,248.54 L408.42,248.33 L409.84,248.46 L411.25,248.33 L412.67,248.35 L414.09,248.24 L415.51,248.25 L416.92,248.21 L418.34,248.2 L419.76,248.06 L421.17,248.09 L422.59,248.17 L424.01,247.99 L425.43,248 L426.84,248.13 L428.26,247.97 L429.68,247.95 L431.09,247.9 L432.51,248.05 L433.93,247.8 L435.35,247.93 L436.76,247.97 L438.18,247.75 L439.6,247.79 L441.01,247.87 L442.43,247.79 L443.85,247.68 L445.26,247.56 L446.68,247.65 L448.1,247.6 L449.51,247.67 L450,247.62 L450.93,247.52 L452.35,247.53 L453.77,247.58 L455.18,247.6 L456.6,247.44 L458.02,247.42 L459.43,247.45 L460.85,247.53 L462.27,247.28 L463.69,247.49 L465.1,247.39 L466.52,247.26 L467.94,247.32 L469.35,247.2 L470.77,247.09 L472.19,247.27 L473.6,247.13 L475.02,247.15 L476.44,247.12 L477.86,247.21 L479.27,247.14 L480.69,246.9 L482.11,247.04 L483.52,246.98 L484.94,246.95 L486.36,247.04 L487.77,246.89 L489.19,246.88 L490.61,246.98 L492.03,246.82 L493.44,246.81 L494.86,246.79 L496.28,246.86 L497.69,246.78 L499.11,246.78 L500.53,246.65 L501.94,246.52 L503.36,246.68 L504.78,246.62 L505,246.63 L506.2,246.68 L507.61,246.68 L509.03,246.49 L510.45,246.52 L511.86,246.47 L513.28,246.7 L514.7,246.48 L515.6,246.48 L516.12,246.13 L517.53,245.39 L518,245.06 L518.95,245.02 L520.37,244.87 L521.78,245.05 L523.2,245.06 L524.62,244.99 L526.03,244.87 L527.45,245.06 L528.87,244.98 L530.28,245.03 L531.7,245.15 L533.12,245.1 L534.54,245.11 L535,245.04 L535.95,245.08 L537,245.34 L537.37,245.36 L538.79,245.43 L540.2,245.3 L541.62,245.62 L543.04,245.43 L544.46,245.45 L545.87,245.49 L547.29,245.49 L548.71,245.69 L550.12,245.63 L551.54,245.64 L552.96,245.63 L554.37,245.54 L555.79,245.64 L557.21,245.83 L558.63,245.84 L560.04,245.88 L561.46,245.72 L562.88,245.72 L564.29,245.7 L565.71,245.87 L567.13,245.84 L568.54,245.89 L569.96,245.92 L571.38,245.98 L572.8,245.93 L574.21,246.09 L575.63,245.93 L577.05,246.17 L578.46,246.08 L579.88,245.95 L581.3,246.05 L582.72,246.14 L584.13,246.13 L585.55,246.2 L586.97,246.15 L587,246.15 L588.38,246.14 L589.8,246.31 L591.22,246.17 L592.63,246.3 L594.05,246.34 L595.47,246.29 L596.88,246.26 L598.3,246.41 L599.72,246.27 L601.14,246.41 L602.55,246.18 L603.97,246.3 L605.39,246.37 L606.8,246.21 L608.22,246.46 L609.64,246.23 L611.05,246.4 L612.47,246.29 L613.89,246.52 L615,246.44 L615.31,246.37 L616.72,246.22 L618.14,245.9 L619.56,245.73 L620.97,245.5 L621.3,245.43 L622.39,244.68 L622.8,244.43 L623.81,244.39 L625.23,244.54 L626.64,244.29 L628.06,244.48 L629.48,244.23 L630.89,244.16 L632.31,244.12 L633.73,244.29 L635.14,244.3 L636.56,244.1 L637.98,244.14 L639.4,243.98 L640.81,244.13 L642.23,244.03 L643.65,243.83 L645.06,243.76 L646.48,243.92 L647.9,243.68 L648.6,243.78 L649.32,243.89 L650.73,243.71 L652.15,243.68 L653.57,243.77 L654.98,243.68 L656.4,243.73 L657.82,243.59 L659.23,243.81 L660.65,243.61 L662.07,243.75 L663.49,243.53 L664.9,243.71 L666.32,243.75 L667.74,243.56 L669.15,243.43 L670.57,243.52 L671.99,243.59 L673.4,243.44 L674.82,243.53 L676.24,243.37 L677.65,243.47 L679.07,243.53 L680.49,243.43 L681.91,243.49 L683.32,243.3 L684.74,243.5 L685,243.46 L686.16,243.26 L687.57,243.47 L688.99,243.45 L690.41,243.4 L691.83,243.25 L693.24,243.14 L694.66,243.13 L696.08,243.21 L697.49,243.1 L698.91,243.2 L700.33,242.91 L701.75,243 L703.16,243.08 L704.58,242.97 L706,242.91 L707.41,242.75 L708.83,242.73 L710.25,242.73 L711.66,242.89 L713.08,242.84 L714.5,242.62 L715.91,242.8 L717.33,242.49 L718.75,242.63 L720.17,242.71 L721.58,242.49 L723,242.63 L723,265.5 L57,265.5Z" fill="#65b800"/>
<path d="M57,266.5 L723,266.5 L723,297.12 L721.58,296.7 L720.17,296.45 L718.75,297.17 L717.33,297.73 L715.91,297.23 L714.5,296.8 L713.08,297.44 L711.66,298.63 L710.25,298.25 L708.83,297.97 L707.41,297.83 L706,299.31 L704.58,299.05 L703.16,298.69 L702.6,298.48 L701.75,298.13 L700.33,299.32 L698.91,299.37 L697.49,299.3 L696.08,298.86 L694.66,299.45 L693.24,300.35 L691.83,299.92 L690.41,299.12 L688.99,299.55 L687.57,300.87 L686.16,300.18 L685,300.2 L684.74,300.17 L683.32,299.29 L681.91,300.47 L680.49,300.65 L679.07,300.02 L677.65,299.44 L676.24,300.11 L674.82,300.45 L673.4,299.93 L671.99,299.2 L670.57,299.35 L669.15,300.17 L667.74,299.63 L666.32,299.27 L664.9,298.71 L663.49,299.92 L662.07,299.59 L660.65,299.29 L659.23,298.6 L657.82,299.5 L656.4,299.79 L654.98,299.21 L653.57,298.48 L652.15,298.9 L650.73,299.68 L650,299.57 L649.32,300.22 L648.3,300.68 L647.9,300.11 L646.48,298.88 L646,298.94 L645.06,299.64 L643.65,299.05 L642.23,297.92 L640.81,297.23 L639.4,297.71 L637.98,297.77 L636.56,296.91 L635.14,296.1 L633.73,296.25 L632.5,296.76 L632.31,296.86 L630.89,296.35 L629.48,295.71 L628.06,295.13 L626.64,296.16 L625.23,295.64 L623.81,295.27 L622.39,294.32 L620.97,295.25 L620,295.17 L619.56,295.05 L618.14,294.32 L616.72,293.46 L615.31,293.72 L613.89,293.89 L612.47,293.07 L611.3,292.14 L611.05,292.01 L609.64,292.33 L608.22,293.14 L606.8,292.52 L605.39,291.93 L603.97,291.67 L602.55,292.54 L601.14,292.37 L599.72,292.03 L598.3,291.14 L596.88,292.17 L595.47,292.27 L594.05,291.6 L592.63,291.26 L591.22,291.48 L589.8,291.93 L588.38,291.52 L586.97,290.88 L586.7,290.85 L585.55,290.88 L584.13,292 L582.72,292.1 L581.3,291.68 L579.88,291.59 L578.46,292.3 L577.05,292.7 L575.63,292.33 L574.21,291.94 L572.8,292.46 L571.38,293.29 L570.4,293.12 L569.96,292.99 L568.54,292.67 L567.13,292.33 L565.71,293.43 L564.29,293.42 L562.88,292.77 L561.46,292.21 L560.04,293.15 L558.63,293.47 L557.21,292.62 L555.79,292.55 L554.37,292.6 L552.96,293.52 L551.54,292.98 L550.12,292.68 L548.71,292.23 L547.29,293.41 L545.87,293.09 L544.46,292.32 L543.04,291.89 L541.62,293.19 L540.2,293.11 L538.79,292.84 L537.7,292.2 L537.37,291.96 L535.95,292.4 L534.54,292.94 L533.12,292.37 L531.7,291.51 L530.28,291.3 L528.87,292.06 L527.45,291.71 L526.03,290.73 L524.62,290.34 L523.2,291.07 L521.78,291.21 L521.3,290.97 L520.37,290.15 L518.95,289.11 L517.53,288.59 L516.12,288.41 L514.8,287.4 L514.7,287.37 L513.28,286.68 L511.86,286.64 L510.45,287.48 L509.03,287 L507.61,286.19 L506.2,286.24 L505,286.79 L504.78,286.91 L503.36,286.61 L501.94,286.27 L500.53,285.94 L499.11,286.67 L497.69,286.72 L496.28,286.64 L494.86,286.31 L493.44,286.4 L492.03,286.96 L490.61,286.83 L489.19,286.05 L487.77,286.35 L486.36,287.26 L484.94,286.55 L483.52,286.4 L482.11,286.02 L480.69,286.61 L479.27,287.04 L477.86,286.58 L476.44,286.12 L475.02,286.28 L473.6,286.84 L472.19,286.35 L470.77,286.14 L469.35,286.02 L467.94,286.9 L466.52,286.86 L465.1,286.51 L465,286.47 L463.69,285.93 L462.27,286.68 L460.85,286.94 L459.43,286.48 L458.02,285.97 L456.6,286.62 L455.18,286.71 L453.77,286.31 L452.35,285.85 L450.93,286.1 L449.51,286.72 L448.1,286.3 L446.68,285.94 L445.26,285.58 L443.85,286.69 L442.43,286.43 L441.01,285.91 L439.6,285.47 L438.18,286.22 L436.76,286.18 L435.35,285.75 L433.93,285.5 L432.51,285.5 L431.09,286.43 L429.68,285.91 L428.26,285.48 L426.84,285.23 L426.5,285.46 L425.43,286.2 L424.01,286.01 L422.59,285.49 L421.17,284.95 L419.76,285.99 L418.34,285.7 L416.92,285.4 L415.51,285.14 L414.09,285.27 L412.67,286 L411.25,285.62 L409.84,285.22 L408.42,285.39 L407,285.99 L405.59,285.85 L404.17,285.31 L402.75,284.87 L401.34,285.63 L400,285.89 L399.92,285.9 L398.5,285.11 L397.08,284.86 L395.67,285.2 L394.25,285.71 L392.83,285.15 L391.42,284.78 L390,284.81 L388.58,285.5 L387.17,285.42 L385.75,285.05 L384.33,284.52 L382.92,285.57 L381.5,285.24 L380.08,284.92 L378.66,284.69 L377.25,284.72 L375.83,285.02 L374.41,284.84 L373,284.36 L371.58,284.66 L370.16,285.41 L368.75,284.96 L367.33,284.24 L365.91,284.36 L364.49,285.18 L363.08,284.59 L361.66,284.2 L360.24,283.85 L358.83,284.71 L357.41,284.96 L355.99,284.31 L354.57,283.94 L353.16,284.46 L352.7,284.59 L351.74,284.86 L350.32,284.25 L348.91,284.11 L347.49,283.71 L346.07,284.61 L344.65,284.44 L343.24,284.09 L341.82,283.79 L340.4,284.34 L338.99,284.09 L337.57,284.08 L336.15,283.65 L334.74,283.89 L333.32,284.44 L331.9,284.11 L330.49,283.62 L329.07,283.4 L327.65,284.1 L326.23,283.76 L324.82,283.4 L323.4,283.14 L321.98,284.16 L320.57,284.11 L319.15,283.74 L317.73,283.14 L316.31,283.81 L315,283.93 L314.9,283.94 L313.48,283.36 L312.06,283 L310.65,282.94 L309.23,283.51 L307.81,283.31 L306.4,283.03 L304.98,282.63 L303.56,283.57 L302.14,283.45 L300.73,283.08 L299.31,282.75 L297.89,283.28 L296.48,283.35 L295.06,282.7 L293.64,282.39 L292.23,282.77 L290.81,283.11 L289.39,282.88 L287.97,282.22 L286.56,282.16 L285.14,282.77 L285,282.77 L283.72,282.74 L282.31,282.47 L280.89,282.18 L279.47,282.49 L278.06,282.3 L276.64,282.21 L275.22,281.66 L273.8,282.08 L272.39,282.66 L270.97,281.85 L269.55,281.57 L268.14,281.83 L266.72,282.19 L265.3,281.9 L263.88,281.44 L262.47,281.09 L261.05,281.89 L259.63,281.86 L258.22,281.78 L256.8,281.37 L255.38,281.31 L253.97,281.7 L252.55,281.35 L251.13,280.97 L249.72,280.93 L248.3,281.71 L246.88,281.51 L245.46,280.75 L244.05,280.64 L242.63,281.12 L241.21,281.04 L241.2,281.03 L239.8,280.61 L238.38,280.29 L236.96,280.79 L235.54,280.86 L234.13,280.54 L232.71,280.13 L231.29,280.19 L229.88,280.92 L228.46,280.31 L227.04,280.12 L225.63,279.9 L224.21,280.68 L222.79,280.52 L221.37,280.13 L219.96,279.86 L218.54,279.85 L217.12,280.23 L215.71,279.87 L214.29,279.49 L212.87,279.72 L211.46,280.19 L210.04,279.66 L208.62,279.24 L207.2,279.13 L205.79,279.47 L204.4,279.33 L204.37,279.33 L202.95,279.21 L201.54,278.87 L200.12,279.26 L198.7,279.3 L197.28,278.99 L195.87,278.69 L194.45,279.34 L193.03,279.6 L191.62,279.06 L190.2,278.81 L188.78,278.73 L187.37,279.57 L185.95,279.27 L184.53,279.02 L183.12,278.59 L181.7,279.1 L180.28,278.88 L178.86,279 L177.45,278.49 L176.03,278.72 L175,278.84 L174.61,278.87 L173.2,278.89 L171.78,278.24 L170.36,278.3 L168.94,278.76 L167.53,278.61 L166.11,278.09 L164.69,278.2 L163.28,278.57 L161.86,278.38 L160.44,278.36 L159.03,278.16 L157.61,278.32 L156.19,278.46 L154.77,277.85 L153.36,277.86 L153,277.86 L151.94,277.86 L150.52,278.44 L149.11,278.11 L147.69,277.63 L146.27,277.55 L144.85,278.04 L143.44,277.9 L142.02,277.43 L140.6,277.43 L139.19,277.67 L137.77,277.8 L136.35,277.48 L134.94,276.88 L133.52,277.26 L132.1,277.36 L130.69,277.39 L130.5,277.33 L129.27,276.99 L127.85,276.81 L126.43,277.76 L125.02,277.21 L123.6,277.21 L122.18,277.07 L120.77,277.37 L119.35,277.42 L117.93,277.04 L116.52,277.05 L115.1,277.35 L113.68,277.35 L112.26,277.21 L110.85,277.06 L109.43,276.96 L108.01,277.47 L106.6,277.39 L105.18,276.94 L103.76,276.69 L102.34,277.18 L100.93,277.38 L99.51,277.09 L98.09,277.01 L96.68,277.29 L95.26,277.26 L93.84,277.37 L93,277.1 L92.43,276.91 L91.01,276.89 L89.59,277.26 L88.17,277.11 L86.76,277.18 L85.34,276.65 L83.92,277.56 L82.51,277.16 L81.09,277.04 L79.67,277.01 L78.25,277.18 L76.84,277.07 L75.42,276.81 L74,276.95 L72.59,276.88 L71.17,277 L69.75,276.78 L68.34,276.75 L66.92,276.49 L65.5,277.15 L64.08,276.77 L62.67,276.72 L61.25,276.6 L59.83,276.73 L58.42,277.06 L57,276.6Z" fill="#ffc000"/>
<path d="M57,276.6 L58.42,277.06 L59.83,276.73 L61.25,276.6 L62.67,276.72 L64.08,276.77 L65.5,277.15 L66.92,276.49 L68.34,276.75 L69.75,276.78 L71.17,277 L72.59,276.88 L74,276.95 L75.42,276.81 L76.84,277.07 L78.25,277.18 L79.67,277.01 L81.09,277.04 L82.51,277.16 L83.92,277.56 L85.34,276.65 L86.76,277.18 L88.17,277.11 L89.59,277.26 L91.01,276.89 L92.43,276.91 L93,277.1 L93.84,277.37 L95.26,277.26 L96.68,277.29 L98.09,277.01 L99.51,277.09 L100.93,277.38 L102.34,277.18 L103.76,276.69 L105.18,276.94 L106.6,277.39 L108.01,277.47 L109.43,276.96 L110.85,277.06 L112.26,277.21 L113.68,277.35 L115.1,277.35 L116.52,277.05 L117.93,277.04 L119.35,277.42 L120.77,277.37 L122.18,277.07 L123.6,277.21 L125.02,277.21 L126.43,277.76 L127.85,276.81 L129.27,276.99 L130.5,277.33 L130.69,277.39 L132.1,277.36 L133.52,277.26 L134.94,276.88 L136.35,277.48 L137.77,277.8 L139.19,277.67 L140.6,277.43 L142.02,277.43 L143.44,277.9 L144.85,278.04 L146.27,277.55 L147.69,277.63 L149.11,278.11 L150.52,278.44 L151.94,277.86 L153,277.86 L153.36,277.86 L154.77,277.85 L156.19,278.46 L157.61,278.32 L159.03,278.16 L160.44,278.36 L161.86,278.38 L163.28,278.57 L164.69,278.2 L166.11,278.09 L167.53,278.61 L168.94,278.76 L170.36,278.3 L171.78,278.24 L173.2,278.89 L174.61,278.87 L175,278.84 L176.03,278.72 L177.45,278.49 L178.86,279 L180.28,278.88 L181.7,279.1 L183.12,278.59 L184.53,279.02 L185.95,279.27 L187.37,279.57 L188.78,278.73 L190.2,278.81 L191.62,279.06 L193.03,279.6 L194.45,279.34 L195.87,278.69 L197.28,278.99 L198.7,279.3 L200.12,279.26 L201.54,278.87 L202.95,279.21 L204.37,279.33 L204.4,279.33 L205.79,279.47 L207.2,279.13 L208.62,279.24 L210.04,279.66 L211.46,280.19 L212.87,279.72 L214.29,279.49 L215.71,279.87 L217.12,280.23 L218.54,279.85 L219.96,279.86 L221.37,280.13 L222.79,280.52 L224.21,280.68 L225.63,279.9 L227.04,280.12 L228.46,280.31 L229.88,280.92 L231.29,280.19 L232.71,280.13 L234.13,280.54 L235.54,280.86 L236.96,280.79 L238.38,280.29 L239.8,280.61 L241.2,281.03 L241.21,281.04 L242.63,281.12 L244.05,280.64 L245.46,280.75 L246.88,281.51 L248.3,281.71 L249.72,280.93 L251.13,280.97 L252.55,281.35 L253.97,281.7 L255.38,281.31 L256.8,281.37 L258.22,281.78 L259.63,281.86 L261.05,281.89 L262.47,281.09 L263.88,281.44 L265.3,281.9 L266.72,282.19 L268.14,281.83 L269.55,281.57 L270.97,281.85 L272.39,282.66 L273.8,282.08 L275.22,281.66 L276.64,282.21 L278.06,282.3 L279.47,282.49 L280.89,282.18 L282.31,282.47 L283.72,282.74 L285,282.77 L285.14,282.77 L286.56,282.16 L287.97,282.22 L289.39,282.88 L290.81,283.11 L292.23,282.77 L293.64,282.39 L295.06,282.7 L296.48,283.35 L297.89,283.28 L299.31,282.75 L300.73,283.08 L302.14,283.45 L303.56,283.57 L304.98,282.63 L306.4,283.03 L307.81,283.31 L309.23,283.51 L310.65,282.94 L312.06,283 L313.48,283.36 L314.9,283.94 L315,283.93 L316.31,283.81 L317.73,283.14 L319.15,283.74 L320.57,284.11 L321.98,284.16 L323.4,283.14 L324.82,283.4 L326.23,283.76 L327.65,284.1 L329.07,283.4 L330.49,283.62 L331.9,284.11 L333.32,284.44 L334.74,283.89 L336.15,283.65 L337.57,284.08 L338.99,284.09 L340.4,284.34 L341.82,283.79 L343.24,284.09 L344.65,284.44 L346.07,284.61 L347.49,283.71 L348.91,284.11 L350.32,284.25 L351.74,284.86 L352.7,284.59 L353.16,284.46 L354.57,283.94 L355.99,284.31 L357.41,284.96 L358.83,284.71 L360.24,283.85 L361.66,284.2 L363.08,284.59 L364.49,285.18 L365.91,284.36 L367.33,284.24 L368.75,284.96 L370.16,285.41 L371.58,284.66 L373,284.36 L374.41,284.84 L375.83,285.02 L377.25,284.72 L378.66,284.69 L380.08,284.92 L381.5,285.24 L382.92,285.57 L384.33,284.52 L385.75,285.05 L387.17,285.42 L388.58,285.5 L390,284.81 L391.42,284.78 L392.83,285.15 L394.25,285.71 L395.67,285.2 L397.08,284.86 L398.5,285.11 L399.92,285.9 L400,285.89 L401.34,285.63 L402.75,284.87 L404.17,285.31 L405.59,285.85 L407,285.99 L408.42,285.39 L409.84,285.22 L411.25,285.62 L412.67,286 L414.09,285.27 L415.51,285.14 L416.92,285.4 L418.34,285.7 L419.76,285.99 L421.17,284.95 L422.59,285.49 L424.01,286.01 L425.43,286.2 L426.5,285.46 L426.84,285.23 L428.26,285.48 L429.68,285.91 L431.09,286.43 L432.51,285.5 L433.93,285.5 L435.35,285.75 L436.76,286.18 L438.18,286.22 L439.6,285.47 L441.01,285.91 L442.43,286.43 L443.85,286.69 L445.26,285.58 L446.68,285.94 L448.1,286.3 L449.51,286.72 L450.93,286.1 L452.35,285.85 L453.77,286.31 L455.18,286.71 L456.6,286.62 L458.02,285.97 L459.43,286.48 L460.85,286.94 L462.27,286.68 L463.69,285.93 L465,286.47 L465.1,286.51 L466.52,286.86 L467.94,286.9 L469.35,286.02 L470.77,286.14 L472.19,286.35 L473.6,286.84 L475.02,286.28 L476.44,286.12 L477.86,286.58 L479.27,287.04 L480.69,286.61 L482.11,286.02 L483.52,286.4 L484.94,286.55 L486.36,287.26 L487.77,286.35 L489.19,286.05 L490.61,286.83 L492.03,286.96 L493.44,286.4 L494.86,286.31 L496.28,286.64 L497.69,286.72 L499.11,286.67 L500.53,285.94 L501.94,286.27 L503.36,286.61 L504.78,286.91 L505,286.79 L506.2,286.24 L507.61,286.19 L509.03,287 L510.45,287.48 L511.86,286.64 L513.28,286.68 L514.7,287.37 L514.8,287.4 L516.12,288.41 L517.53,288.59 L518.95,289.11 L520.37,290.15 L521.3,290.97 L521.78,291.21 L523.2,291.07 L524.62,290.34 L526.03,290.73 L527.45,291.71 L528.87,292.06 L530.28,291.3 L531.7,291.51 L533.12,292.37 L534.54,292.94 L535.95,292.4 L537.37,291.96 L537.7,292.2 L538.79,292.84 L540.2,293.11 L541.62,293.19 L543.04,291.89 L544.46,292.32 L545.87,293.09 L547.29,293.41 L548.71,292.23 L550.12,292.68 L551.54,292.98 L552.96,293.52 L554.37,292.6 L555.79,292.55 L557.21,292.62 L558.63,293.47 L560.04,293.15 L561.46,292.21 L562.88,292.77 L564.29,293.42 L565.71,293.43 L567.13,292.33 L568.54,292.67 L569.96,292.99 L570.4,293.12 L571.38,293.29 L572.8,292.46 L574.21,291.94 L575.63,292.33 L577.05,292.7 L578.46,292.3 L579.88,291.59 L581.3,291.68 L582.72,292.1 L584.13,292 L585.55,290.88 L586.7,290.85 L586.97,290.88 L588.38,291.52 L589.8,291.93 L591.22,291.48 L592.63,291.26 L594.05,291.6 L595.47,292.27 L596.88,292.17 L598.3,291.14 L599.72,292.03 L601.14,292.37 L602.55,292.54 L603.97,291.67 L605.39,291.93 L606.8,292.52 L608.22,293.14 L609.64,292.33 L611.05,292.01 L611.3,292.14 L612.47,293.07 L613.89,293.89 L615.31,293.72 L616.72,293.46 L618.14,294.32 L619.56,295.05 L620,295.17 L620.97,295.25 L622.39,294.32 L623.81,295.27 L625.23,295.64 L626.64,296.16 L628.06,295.13 L629.48,295.71 L630.89,296.35 L632.31,296.86 L632.5,296.76 L633.73,296.25 L635.14,296.1 L636.56,296.91 L637.98,297.77 L639.4,297.71 L640.81,297.23 L642.23,297.92 L643.65,299.05 L645.06,299.64 L646,298.94 L646.48,298.88 L647.9,300.11 L648.3,300.68 L649.32,300.22 L650,299.57 L650.73,299.68 L652.15,298.9 L653.57,298.48 L654.98,299.21 L656.4,299.79 L657.82,299.5 L659.23,298.6 L660.65,299.29 L662.07,299.59 L663.49,299.92 L664.9,298.71 L666.32,299.27 L667.74,299.63 L669.15,300.17 L670.57,299.35 L671.99,299.2 L673.4,299.93 L674.82,300.45 L676.24,300.11 L677.65,299.44 L679.07,300.02 L680.49,300.65 L681.91,300.47 L683.32,299.29 L684.74,300.17 L685,300.2 L686.16,300.18 L687.57,300.87 L688.99,299.55 L690.41,299.12 L691.83,299.92 L693.24,300.35 L694.66,299.45 L696.08,298.86 L697.49,299.3 L698.91,299.37 L700.33,299.32 L701.75,298.13 L702.6,298.48 L703.16,298.69 L704.58,299.05 L706,299.31 L707.41,297.83 L708.83,297.97 L710.25,298.25 L711.66,298.63 L713.08,297.44 L714.5,296.8 L715.91,297.23 L717.33,297.73 L718.75,297.17 L720.17,296.45 L721.58,296.7 L723,297.12 L723,318.24 L721.58,317.66 L720.17,317.58 L718.75,318.03 L717.33,318.72 L715.91,318.37 L714.5,317.93 L713.08,318.33 L711.66,319.54 L710.25,319.39 L708.83,319.07 L707.41,318.82 L706,320.2 L704.58,320.18 L703.16,319.7 L702.6,319.45 L701.75,319.09 L700.33,320.26 L698.91,320.46 L697.49,320.38 L696.08,320.04 L694.66,320.51 L693.24,321.69 L691.83,321.21 L690.41,320.42 L688.99,320.71 L687.57,322.11 L686.16,321.55 L685,321.69 L684.74,321.68 L683.32,320.62 L681.91,321.88 L680.49,321.9 L679.07,321.37 L677.65,320.48 L676.24,321.17 L674.82,321.63 L673.4,320.91 L671.99,320.19 L670.57,320.49 L669.15,321.23 L667.74,320.51 L666.32,320.09 L664.9,319.56 L663.49,320.65 L662.07,320.47 L660.65,319.94 L659.23,319.2 L657.82,320.1 L656.4,320.43 L654.98,319.65 L653.57,318.86 L652.15,319.4 L650.73,320.12 L650,319.96 L649.32,320.71 L648.3,321.29 L647.9,320.91 L646.48,320.44 L645.06,321.55 L643.65,320.93 L642.23,319.52 L640.81,318.76 L639.4,319.11 L637.98,319.21 L636.56,318.14 L635.14,317.14 L633.73,317.25 L632.5,317.79 L632.31,317.88 L630.89,317.08 L629.48,316.08 L628.06,315.22 L626.64,315.97 L625.23,315.26 L625,315.15 L623.81,314.75 L622.39,313.86 L620.97,314.72 L619.56,314.4 L618.14,314.12 L616.72,313.43 L615.31,313.74 L615,313.84 L613.89,314.03 L612.47,313.36 L611.3,312.33 L611.05,312.16 L609.64,312.62 L608.22,313.29 L606.8,312.75 L605.39,311.89 L603.97,311.58 L602.55,312.46 L601.14,312.18 L599.72,312.07 L598.3,311.13 L596.88,312.11 L595.47,312.08 L594.05,311.26 L592.63,311.15 L591.22,311.24 L589.8,311.7 L588.38,311.08 L586.97,310.49 L586.7,310.48 L585.55,310.58 L584.13,311.46 L582.72,311.48 L581.3,311.07 L579.88,311.02 L578.46,311.44 L577.05,311.81 L575.63,311.38 L574.21,310.91 L572.8,311.53 L571.38,312.19 L570.4,312.02 L569.96,311.89 L568.54,311.43 L567.13,311.19 L565.71,312.02 L564.29,312.11 L562.88,311.46 L561.46,310.8 L560.04,311.66 L558.63,311.9 L557.21,310.93 L555.79,310.75 L554.37,310.8 L552.96,311.74 L551.54,311.07 L550.12,310.59 L548.71,310.07 L547.29,311.25 L545.87,311.09 L544.46,310.23 L543.04,309.76 L541.62,310.8 L540.2,310.73 L538.79,310.24 L537.7,309.56 L537.37,309.31 L535.95,309.7 L534.54,310.3 L533.12,309.47 L531.7,308.48 L530.28,308.39 L528.87,308.93 L527.45,308.46 L526.03,307.39 L524.62,306.99 L523.2,307.68 L521.78,307.74 L521.3,307.46 L520.37,306.7 L518.95,305.78 L517.53,305.19 L516.12,305.34 L514.8,304.31 L514.7,304.27 L513.28,303.61 L511.86,303.56 L510.45,304.47 L509.03,304.21 L507.61,303.45 L506.2,303.39 L505,303.92 L504.78,304.03 L503.36,303.65 L501.94,303.56 L500.53,303.13 L499.11,303.92 L497.69,303.91 L496.28,303.58 L494.86,303.31 L493.44,303.4 L492.03,304.06 L490.61,303.78 L489.19,303.09 L487.77,303.48 L486.36,304.16 L484.94,303.45 L483.52,303.45 L482.11,303.01 L480.69,303.43 L479.27,304.05 L477.86,303.31 L476.44,302.83 L475.02,302.97 L473.6,303.72 L472.19,303.23 L470.77,302.88 L469.35,302.63 L467.94,303.76 L466.52,303.53 L465.1,303.12 L465,303.09 L463.69,302.74 L462.27,303.31 L460.85,303.59 L459.43,302.99 L458.02,302.58 L456.6,303.33 L455.18,303.4 L453.77,302.85 L452.35,302.33 L450.93,302.79 L449.51,303.15 L448.1,302.96 L446.68,302.4 L445.26,302.01 L443.85,303.02 L442.43,302.79 L441.01,302.31 L439.6,301.87 L438.18,302.61 L436.76,302.64 L435.35,302.01 L433.93,301.95 L432.51,302 L431.09,302.68 L429.68,302.19 L428.26,301.93 L426.84,301.68 L426.5,301.89 L425.43,302.54 L424.01,302.35 L422.59,301.79 L421.17,301.06 L419.76,301.95 L418.34,301.62 L416.92,301.3 L415.51,301.25 L414.09,301.11 L412.67,301.85 L411.25,301.35 L409.84,301.15 L408.42,301.2 L407,301.67 L405.59,301.44 L404.17,300.84 L402.75,300.45 L401.34,301.3 L400,301.34 L399.92,301.34 L398.5,300.69 L397.08,300.27 L395.67,300.6 L394.25,301.29 L392.83,300.56 L391.42,300.39 L390,300.18 L388.58,300.95 L387.17,300.93 L385.75,300.58 L384.33,299.86 L382.92,301.05 L381.5,300.64 L380.08,300.28 L378.66,299.96 L377.25,300.04 L375.83,300.54 L374.41,300.28 L373,299.67 L371.58,300.02 L370.16,300.84 L368.75,300.32 L367.33,299.45 L365.91,299.66 L364.49,300.59 L363.08,300.07 L361.66,299.46 L360.24,299.1 L358.83,300.03 L357.41,300.39 L355.99,299.67 L354.57,299.38 L353.16,299.75 L352.7,299.86 L351.74,300.1 L350.32,299.41 L348.91,299.45 L347.49,298.94 L346.07,299.9 L344.65,299.79 L343.24,299.43 L341.82,298.99 L340.4,299.56 L338.99,299.48 L337.57,299.47 L336.15,298.92 L334.74,299.13 L333.32,299.74 L331.9,299.51 L330.49,299.1 L329.07,298.69 L327.65,299.55 L326.23,298.99 L324.82,298.79 L323.4,298.5 L321.98,299.62 L320.57,299.54 L319.15,299.19 L317.73,298.67 L316.31,299.26 L315,299.34 L314.9,299.34 L313.48,298.63 L312.06,298.23 L310.65,298.19 L309.23,298.96 L307.81,298.7 L306.4,298.38 L304.98,297.99 L303.56,298.75 L302.14,298.48 L300.73,298.27 L299.31,297.88 L297.89,298.52 L296.48,298.5 L295.06,297.62 L293.64,297.3 L292.23,297.9 L290.81,298.21 L289.39,297.98 L287.97,297.15 L286.56,297.06 L285.14,297.6 L285,297.59 L283.72,297.56 L282.31,297.26 L280.89,297.14 L279.47,297.37 L278.06,297.12 L276.64,296.9 L275.22,296.59 L273.8,296.79 L272.39,297.28 L270.97,296.54 L269.55,296.26 L268.14,296.55 L266.72,296.85 L265.3,296.55 L263.88,296.17 L262.47,295.85 L261.05,296.54 L259.63,296.39 L258.22,296.3 L256.8,295.83 L255.38,295.82 L253.97,296.12 L252.55,295.79 L251.13,295.37 L249.72,295.41 L248.3,296.34 L246.88,296.09 L245.46,295.11 L244.05,295.07 L242.63,295.66 L241.21,295.35 L241.2,295.34 L239.8,294.91 L238.38,294.59 L236.96,295.15 L235.54,295.26 L234.13,294.86 L232.71,294.55 L231.29,294.5 L229.88,295.43 L228.46,294.75 L227.04,294.42 L225.63,294.22 L224.21,295.02 L222.79,294.75 L221.37,294.61 L219.96,294.06 L218.54,294.12 L217.12,294.61 L215.71,294.28 L214.29,293.8 L212.87,294.11 L211.46,294.37 L210.04,294.05 L208.62,293.56 L207.2,293.57 L205.79,293.9 L204.4,293.67 L204.37,293.67 L202.95,293.55 L201.54,293.18 L200.12,293.53 L198.7,293.34 L197.28,292.92 L195.87,292.67 L194.45,293.19 L193.03,293.39 L191.62,293 L190.2,292.5 L190,292.5 L188.78,292.58 L187.37,293.22 L185.95,292.92 L184.53,292.76 L183.12,292.38 L181.7,292.89 L180.28,292.75 L178.86,293.01 L177.45,292.33 L176.03,292.57 L175,292.68 L174.61,292.72 L173.2,292.96 L171.78,292.29 L170.36,292.44 L168.94,292.7 L167.53,292.8 L166.11,292.3 L164.69,292.21 L163.28,292.87 L161.86,292.56 L160.44,292.59 L159.03,292.36 L157.61,292.6 L156.19,292.82 L154.77,292.26 L153.36,292.17 L151.94,292.21 L150.52,292.96 L149.11,292.78 L147.69,292.14 L147.3,292.17 L146.4,291.04 L146.27,291.04 L144.85,291.59 L143.44,291.33 L142.02,290.95 L140.6,290.74 L139.19,291.22 L137.77,291.22 L136.35,290.78 L134.94,290.32 L133.52,290.58 L132.1,290.9 L130.69,290.7 L130.5,290.64 L129.27,290.29 L127.85,290.14 L126.43,291.21 L125.02,290.59 L123.6,290.45 L122.18,290.14 L120.77,290.7 L119.35,290.73 L117.93,290.08 L116.52,290.27 L115.1,290.31 L113.68,290.38 L112.26,290.21 L110.85,290.05 L109.43,289.85 L108.01,290.44 L106.6,290.33 L105.18,289.85 L103.76,289.45 L102.34,289.84 L100.93,290 L99.51,289.84 L98.09,289.66 L96.68,290.04 L95.26,289.83 L93.84,289.88 L93,289.58 L92.43,289.4 L91.01,289.59 L89.59,290 L88.17,289.94 L86.76,290.02 L85.34,289.47 L83.92,290.4 L82.51,290.07 L81.09,290.13 L79.67,290.08 L78.25,290.13 L76.84,290.22 L75.42,289.86 L74,289.99 L72.59,290.01 L71.3,290.29 L71.17,290.31 L69.75,289.91 L68.34,290.08 L66.92,289.79 L65.5,290.46 L64.08,290.16 L62.67,290.14 L61.25,289.8 L59.83,290.1 L58.42,290.5 L57,290.04Z" fill="#003299"/>
<path d="M57,290.04 L58.42,290.5 L59.83,290.1 L61.25,289.8 L62.67,290.14 L64.08,290.16 L65.5,290.46 L66.92,289.79 L68.34,290.08 L69.75,289.91 L71.17,290.31 L71.3,290.29 L72.59,290.01 L74,289.99 L75.42,289.86 L76.84,290.22 L78.25,290.13 L79.67,290.08 L81.09,290.13 L82.51,290.07 L83.92,290.4 L85.34,289.47 L86.76,290.02 L88.17,289.94 L89.59,290 L91.01,289.59 L92.43,289.4 L93,289.58 L93.84,289.88 L95.26,289.83 L96.68,290.04 L98.09,289.66 L99.51,289.84 L100.93,290 L102.34,289.84 L103.76,289.45 L105.18,289.85 L106.6,290.33 L108.01,290.44 L109.43,289.85 L110.85,290.05 L112.26,290.21 L113.68,290.38 L115.1,290.31 L116.52,290.27 L117.93,290.08 L119.35,290.73 L120.77,290.7 L122.18,290.14 L123.6,290.45 L125.02,290.59 L126.43,291.21 L127.85,290.14 L129.27,290.29 L130.5,290.64 L130.69,290.7 L132.1,290.9 L133.52,290.58 L134.94,290.32 L136.35,290.78 L137.77,291.22 L139.19,291.22 L140.6,290.74 L142.02,290.95 L143.44,291.33 L144.85,291.59 L146.27,291.04 L146.4,291.04 L147.3,292.17 L147.69,292.14 L149.11,292.78 L150.52,292.96 L151.94,292.21 L153.36,292.17 L154.77,292.26 L156.19,292.82 L157.61,292.6 L159.03,292.36 L160.44,292.59 L161.86,292.56 L163.28,292.87 L164.69,292.21 L166.11,292.3 L167.53,292.8 L168.94,292.7 L170.36,292.44 L171.78,292.29 L173.2,292.96 L174.61,292.72 L175,292.68 L176.03,292.57 L177.45,292.33 L178.86,293.01 L180.28,292.75 L181.7,292.89 L183.12,292.38 L184.53,292.76 L185.95,292.92 L187.37,293.22 L188.78,292.58 L190,292.5 L190.2,292.5 L191.62,293 L193.03,293.39 L194.45,293.19 L195.87,292.67 L197.28,292.92 L198.7,293.34 L200.12,293.53 L201.54,293.18 L202.95,293.55 L204.37,293.67 L204.4,293.67 L205.79,293.9 L207.2,293.57 L208.62,293.56 L210.04,294.05 L211.46,294.37 L212.87,294.11 L214.29,293.8 L215.71,294.28 L217.12,294.61 L218.54,294.12 L219.96,294.06 L221.37,294.61 L222.79,294.75 L224.21,295.02 L225.63,294.22 L227.04,294.42 L228.46,294.75 L229.88,295.43 L231.29,294.5 L232.71,294.55 L234.13,294.86 L235.54,295.26 L236.96,295.15 L238.38,294.59 L239.8,294.91 L241.2,295.34 L241.21,295.35 L242.63,295.66 L244.05,295.07 L245.46,295.11 L246.88,296.09 L248.3,296.34 L249.72,295.41 L251.13,295.37 L252.55,295.79 L253.97,296.12 L255.38,295.82 L256.8,295.83 L258.22,296.3 L259.63,296.39 L261.05,296.54 L262.47,295.85 L263.88,296.17 L265.3,296.55 L266.72,296.85 L268.14,296.55 L269.55,296.26 L270.97,296.54 L272.39,297.28 L273.8,296.79 L275.22,296.59 L276.64,296.9 L278.06,297.12 L279.47,297.37 L280.89,297.14 L282.31,297.26 L283.72,297.56 L285,297.59 L285.14,297.6 L286.56,297.06 L287.97,297.15 L289.39,297.98 L290.81,298.21 L292.23,297.9 L293.64,297.3 L295.06,297.62 L296.48,298.5 L297.89,298.52 L299.31,297.88 L300.73,298.27 L302.14,298.48 L303.56,298.75 L304.98,297.99 L306.4,298.38 L307.81,298.7 L309.23,298.96 L310.65,298.19 L312.06,298.23 L313.48,298.63 L314.9,299.34 L315,299.34 L316.31,299.26 L317.73,298.67 L319.15,299.19 L320.57,299.54 L321.98,299.62 L323.4,298.5 L324.82,298.79 L326.23,298.99 L327.65,299.55 L329.07,298.69 L330.49,299.1 L331.9,299.51 L333.32,299.74 L334.74,299.13 L336.15,298.92 L337.57,299.47 L338.99,299.48 L340.4,299.56 L341.82,298.99 L343.24,299.43 L344.65,299.79 L346.07,299.9 L347.49,298.94 L348.91,299.45 L350.32,299.41 L351.74,300.1 L352.7,299.86 L353.16,299.75 L354.57,299.38 L355.99,299.67 L357.41,300.39 L358.83,300.03 L360.24,299.1 L361.66,299.46 L363.08,300.07 L364.49,300.59 L365.91,299.66 L367.33,299.45 L368.75,300.32 L370.16,300.84 L371.58,300.02 L373,299.67 L374.41,300.28 L375.83,300.54 L377.25,300.04 L378.66,299.96 L380.08,300.28 L381.5,300.64 L382.92,301.05 L384.33,299.86 L385.75,300.58 L387.17,300.93 L388.58,300.95 L390,300.18 L391.42,300.39 L392.83,300.56 L394.25,301.29 L395.67,300.6 L397.08,300.27 L398.5,300.69 L399.92,301.34 L400,301.34 L401.34,301.3 L402.75,300.45 L404.17,300.84 L405.59,301.44 L407,301.67 L408.42,301.2 L409.84,301.15 L411.25,301.35 L412.67,301.85 L414.09,301.11 L415.51,301.25 L416.92,301.3 L418.34,301.62 L419.76,301.95 L421.17,301.06 L422.59,301.79 L424.01,302.35 L425.43,302.54 L426.5,301.89 L426.84,301.68 L428.26,301.93 L429.68,302.19 L431.09,302.68 L432.51,302 L433.93,301.95 L435.35,302.01 L436.76,302.64 L438.18,302.61 L439.6,301.87 L441.01,302.31 L442.43,302.79 L443.85,303.02 L445.26,302.01 L446.68,302.4 L448.1,302.96 L449.51,303.15 L450.93,302.79 L452.35,302.33 L453.77,302.85 L455.18,303.4 L456.6,303.33 L458.02,302.58 L459.43,302.99 L460.85,303.59 L462.27,303.31 L463.69,302.74 L465,303.09 L465.1,303.12 L466.52,303.53 L467.94,303.76 L469.35,302.63 L470.77,302.88 L472.19,303.23 L473.6,303.72 L475.02,302.97 L476.44,302.83 L477.86,303.31 L479.27,304.05 L480.69,303.43 L482.11,303.01 L483.52,303.45 L484.94,303.45 L486.36,304.16 L487.77,303.48 L489.19,303.09 L490.61,303.78 L492.03,304.06 L493.44,303.4 L494.86,303.31 L496.28,303.58 L497.69,303.91 L499.11,303.92 L500.53,303.13 L501.94,303.56 L503.36,303.65 L504.78,304.03 L505,303.92 L506.2,303.39 L507.61,303.45 L509.03,304.21 L510.45,304.47 L511.86,303.56 L513.28,303.61 L514.7,304.27 L514.8,304.31 L516.12,305.34 L517.53,305.19 L518.95,305.78 L520.37,306.7 L521.3,307.46 L521.78,307.74 L523.2,307.68 L524.62,306.99 L526.03,307.39 L527.45,308.46 L528.87,308.93 L530.28,308.39 L531.7,308.48 L533.12,309.47 L534.54,310.3 L535.95,309.7 L537.37,309.31 L537.7,309.56 L538.79,310.24 L540.2,310.73 L541.62,310.8 L543.04,309.76 L544.46,310.23 L545.87,311.09 L547.29,311.25 L548.71,310.07 L550.12,310.59 L551.54,311.07 L552.96,311.74 L554.37,310.8 L555.79,310.75 L557.21,310.93 L558.63,311.9 L560.04,311.66 L561.46,310.8 L562.88,311.46 L564.29,312.11 L565.71,312.02 L567.13,311.19 L568.54,311.43 L569.96,311.89 L570.4,312.02 L571.38,312.19 L572.8,311.53 L574.21,310.91 L575.63,311.38 L577.05,311.81 L578.46,311.44 L579.88,311.02 L581.3,311.07 L582.72,311.48 L584.13,311.46 L585.55,310.58 L586.7,310.48 L586.97,310.49 L588.38,311.08 L589.8,311.7 L591.22,311.24 L592.63,311.15 L594.05,311.26 L595.47,312.08 L596.88,312.11 L598.3,311.13 L599.72,312.07 L601.14,312.18 L602.55,312.46 L603.97,311.58 L605.39,311.89 L606.8,312.75 L608.22,313.29 L609.64,312.62 L611.05,312.16 L611.3,312.33 L612.47,313.36 L613.89,314.03 L615,313.84 L615.31,313.74 L616.72,313.43 L618.14,314.12 L619.56,314.4 L620.97,314.72 L622.39,313.86 L623.81,314.75 L625,315.15 L625.23,315.26 L626.64,315.97 L628.06,315.22 L629.48,316.08 L630.89,317.08 L632.31,317.88 L632.5,317.79 L633.73,317.25 L635.14,317.14 L636.56,318.14 L637.98,319.21 L639.4,319.11 L640.81,318.76 L642.23,319.52 L643.65,320.93 L645.06,321.55 L646.48,320.44 L647.9,320.91 L648.3,321.29 L649.32,320.71 L650,319.96 L650.73,320.12 L652.15,319.4 L653.57,318.86 L654.98,319.65 L656.4,320.43 L657.82,320.1 L659.23,319.2 L660.65,319.94 L662.07,320.47 L663.49,320.65 L664.9,319.56 L666.32,320.09 L667.74,320.51 L669.15,321.23 L670.57,320.49 L671.99,320.19 L673.4,320.91 L674.82,321.63 L676.24,321.17 L677.65,320.48 L679.07,321.37 L680.49,321.9 L681.91,321.88 L683.32,320.62 L684.74,321.68 L685,321.69 L686.16,321.55 L687.57,322.11 L688.99,320.71 L690.41,320.42 L691.83,321.21 L693.24,321.69 L694.66,320.51 L696.08,320.04 L697.49,320.38 L698.91,320.46 L700.33,320.26 L701.75,319.09 L702.6,319.45 L703.16,319.7 L704.58,320.18 L706,320.2 L707.41,318.82 L708.83,319.07 L710.25,319.39 L711.66,319.54 L713.08,318.33 L714.5,317.93 L715.91,318.37 L717.33,318.72 L718.75,318.03 L720.17,317.58 L721.58,317.66 L723,318.24 L723,373.87 L721.58,373.95 L720.17,373.94 L719.8,373.85 L719.7,379.93 L718.75,379.71 L717.33,379.76 L715.91,379.85 L714.5,380.05 L714.5,380.05 L713.08,382.79 L713,382.97 L711.66,383.15 L710.25,383.4 L708.83,383.34 L707.41,383.12 L706,383.18 L704.58,383.27 L703.16,383.48 L702.6,383.44 L701.75,383.4 L700.33,383.47 L698.91,383.34 L697.49,383.61 L696.08,383.61 L694.66,383.58 L693.24,383.8 L691.83,384.18 L690.41,383.82 L688.99,384.21 L687.57,384.1 L686.16,384.31 L684.74,384.15 L684.6,384.19 L683.32,384.46 L681.91,384.11 L680.49,384.09 L679.07,384.17 L677.65,384 L676.24,383.86 L674.82,383.89 L673.4,383.73 L671.99,383.67 L670.57,383.36 L669.15,383.49 L667.74,383.63 L667.6,383.61 L666.32,383.39 L664.9,382.92 L663.49,382.95 L662.07,382.53 L660.65,382.83 L659.23,382.43 L657.82,382.21 L656.4,382.24 L654.98,382.02 L653.57,381.62 L652.15,381.83 L650.73,381.53 L649.32,381.24 L648.6,381.21 L647.9,381.13 L646.48,380.78 L645.06,380.5 L643.65,380.15 L642.23,380.08 L640.81,379.86 L639.4,379.63 L637.98,379.18 L636.56,378.76 L635.14,378.76 L633.73,378.34 L632.5,378.17 L632.31,378.14 L630.89,377.95 L629.48,377.68 L628.06,377.48 L626.64,377.12 L625.23,376.87 L623.81,376.64 L622.39,376.27 L621.1,375.79 L621,373.37 L620.97,373.36 L619.56,373.32 L618.14,373.34 L616.72,373.11 L615.31,372.9 L615,372.92 L613.89,372.83 L612.47,372.4 L611.05,371.89 L610.1,371.72 L609.64,371.26 L608.4,369.75 L608.22,369.69 L606.8,369.56 L605.39,369.37 L603.97,369.02 L602.55,368.83 L601.14,368.6 L599.72,368.12 L598.3,367.66 L596.88,367.55 L595.47,367.18 L594.05,366.85 L592.63,366.83 L591.22,366.33 L590.8,366.28 L589.8,363.92 L589,362.05 L588.38,362.04 L586.97,361.89 L585.55,361.8 L584.13,361.32 L582.72,361 L581.3,361.25 L579.88,360.64 L578.46,360.77 L577.05,360.71 L575.63,360.14 L574.21,360.03 L573.3,359.86 L572.8,359.71 L571.38,359.56 L569.96,359.13 L568.54,358.76 L567.13,358.38 L565.71,358.05 L564.29,358.06 L562.88,357.66 L561.46,357.13 L560.04,356.74 L558.63,356.43 L557.21,356.42 L555.8,355.88 L555.79,355.87 L554.37,353.65 L554,353.17 L552.96,353.15 L551.54,352.99 L550.12,352.57 L548.71,352.18 L547.29,352.21 L545.87,351.92 L544.46,351.76 L543.04,351.16 L541.62,350.99 L540.2,350.74 L538.79,350.64 L537.37,350.44 L536.2,350.23 L535.95,346.18 L535.7,342.01 L534.54,341.78 L533.12,341.59 L531.7,341.31 L531.3,341.36 L530.28,341.13 L528.87,340.23 L527.45,339.65 L526.03,339.2 L524.62,338.24 L523.2,337.57 L521.78,336.83 L520.37,336.62 L519,335.61 L518.95,335.5 L517.53,333.19 L516.12,330.22 L515.5,329.05 L514.7,329 L513.28,328.88 L511.86,328.92 L510.45,328.91 L509.03,328.77 L507.61,328.72 L506.2,328.27 L505,328.42 L504.78,328.47 L503.36,328.21 L501.94,328.41 L500.53,328.52 L499.11,328.29 L497.69,328.33 L496.28,328.67 L494.86,328.33 L493.44,328.62 L492.03,328.39 L490.61,328.47 L489.19,328.32 L487.77,328.63 L486.36,328.49 L484.94,328.5 L483.52,328.26 L482.11,328.75 L480.69,328.65 L479.27,328.38 L477.86,328.29 L476.44,328.38 L475.02,328.71 L473.6,328.35 L472.19,328.75 L470.77,328.43 L469.35,328.6 L467.94,328.69 L466.52,328.52 L465.1,328.74 L465,328.72 L463.69,328.55 L462.27,328.53 L460.85,328.32 L459.43,328.6 L458.02,328.7 L456.6,328.51 L455.18,328.73 L453.77,328.39 L452.35,328.4 L450.93,328.56 L449.51,328.33 L448.1,328.3 L446.68,328.17 L445.26,328.36 L443.85,328.29 L442.43,328.22 L441.01,328.48 L439.6,328.14 L438.18,328.12 L436.76,328.2 L435.35,328.36 L433.93,328.44 L432.51,328.33 L431.09,328.4 L429.68,328.41 L428.26,327.99 L426.84,328.01 L426.5,328.02 L425.43,328.03 L424.01,327.96 L422.59,328.35 L421.17,328.31 L419.76,328.26 L418.34,327.83 L416.92,328.21 L415.51,328.15 L414.09,328.12 L412.67,327.87 L411.25,327.96 L409.84,327.67 L408.42,327.98 L407,327.93 L405.59,327.87 L404.17,327.87 L402.75,327.52 L401.34,327.49 L400,327.52 L399.92,327.52 L398.5,327.57 L397.08,327.81 L395.67,327.35 L394.25,327.26 L392.83,327.26 L391.42,327.6 L390,327.13 L388.58,327.35 L387.17,327.09 L385.75,327.09 L384.33,327.17 L382.92,327.2 L381.5,327 L380.08,327.16 L378.66,327.03 L377.25,327.05 L375.83,326.82 L374.41,327.02 L373,326.81 L371.58,326.77 L370.16,326.69 L368.75,326.78 L367.33,326.4 L365.91,326.39 L364.49,326.61 L363.08,326.29 L361.66,326.45 L360.24,326.49 L358.83,326.34 L357.41,326.04 L355.99,326 L354.57,325.83 L353.16,326.21 L352.7,326.08 L351.74,325.78 L350.32,326.04 L348.91,325.77 L347.49,325.47 L346.07,325.48 L344.65,325.5 L343.24,325.22 L341.82,325.16 L340.4,324.9 L338.99,325.01 L337.57,324.97 L336.15,324.78 L334.74,324.7 L333.32,324.38 L331.9,324.11 L330.49,324.1 L329.07,323.92 L327.65,323.87 L326.23,323.87 L324.82,323.9 L323.4,323.65 L321.98,323.68 L320.57,323.62 L319.15,323.08 L317.73,323.33 L316.31,323.25 L315,323.19 L314.9,323.19 L313.48,322.63 L312.06,322.62 L310.65,322.49 L309.23,322.29 L307.81,322.48 L306.4,322.26 L304.98,322.05 L303.56,321.97 L302.14,321.63 L300.73,321.47 L299.31,321.73 L297.89,321.4 L296.48,321 L296,321.09 L295.5,318.42 L295.06,318.44 L293.64,317.77 L292.23,317.55 L290.81,317.33 L289.39,317.08 L287.97,316.52 L286.56,316.64 L285.14,316 L285,316 L283.72,316.04 L282.31,315.95 L280.89,315.5 L279.47,315.41 L278.5,315.17 L278.06,315.06 L276.64,314.94 L275.22,314.76 L273.8,314.23 L272.39,314.13 L270.97,313.98 L269.55,313.95 L268.14,313.77 L266.72,313.44 L265.3,312.95 L263.88,312.75 L262.47,312.58 L261.05,312.71 L259.63,312.08 L258.22,312.03 L256.8,311.89 L255.38,311.46 L253.97,311.43 L252.55,311.21 L251.13,310.81 L249.72,310.65 L248.3,310.31 L246.88,310.21 L245.46,309.81 L244.05,309.6 L242.63,309.7 L241.21,309.27 L241.2,309.26 L239.8,308.99 L238.38,309.14 L236.96,308.72 L235.54,308.44 L234.13,308.3 L232.71,307.84 L231.29,307.55 L229.88,307.3 L228.46,307.23 L227.04,307.17 L225.63,306.9 L224.21,306.87 L222.79,306.47 L221.37,306.04 L219.96,306.1 L218.54,305.48 L217.12,305.6 L215.71,305.08 L214.29,304.98 L212.87,304.91 L211.46,304.48 L210.04,304.36 L208.62,304.33 L207.2,303.74 L205.79,303.77 L204.4,303.35 L204.37,303.34 L202.95,303.23 L201.54,303.19 L200.12,302.52 L198.7,302.68 L197.28,302.3 L195.87,302.06 L194.45,302 L193.03,301.51 L191.62,301.43 L190.2,301.15 L190,301.09 L188.78,300.85 L187.37,301.12 L185.95,300.74 L184.53,301.04 L183.12,300.86 L181.7,300.92 L180.28,300.47 L178.86,300.41 L177.45,300.27 L176.03,300.34 L174.61,300.37 L173.2,300.18 L171.78,300.08 L170.36,300.37 L168.94,300.09 L167.53,299.85 L167,299.95 L166.11,299.52 L165.2,298.68 L164.69,298.55 L163.28,298.75 L161.86,298.27 L160.44,298.46 L159.03,298.14 L157.61,297.89 L156.19,298.21 L154.77,298.03 L153.36,297.61 L151.94,297.87 L150.52,297.78 L149.11,297.44 L147.69,297.57 L147.3,297.43 L146.27,296.3 L144.85,295.45 L144.5,295.15 L143.44,295.14 L142.02,295.31 L140.6,295.28 L139.19,294.96 L137.77,295.4 L136.35,295.15 L134.94,295.26 L133.52,295.07 L132.1,295.33 L130.69,295.5 L129.4,295.52 L129.27,295.42 L127.85,294.05 L127.5,293.86 L126.43,294.02 L125.02,293.66 L123.6,293.84 L122.18,293.74 L120.77,293.5 L119.35,293.61 L117.93,293.4 L116.52,293.33 L115.1,293.45 L113.68,293.24 L112.26,293.32 L110.85,293.42 L109.43,293.35 L109,293.25 L108.01,293.12 L106.6,293.31 L105.18,293.45 L103.76,293.22 L102.34,293.5 L100.93,293.58 L99.51,293.75 L98.09,293.71 L96.68,293.86 L95.26,293.85 L93.84,293.86 L93,294 L92.43,294.14 L91.01,294.29 L89.59,294.5 L88.17,294.45 L87.7,294.63 L86.76,294.92 L85.34,294.6 L83.92,295.04 L82.51,295.02 L81.09,294.83 L79.67,295.34 L78.25,295.33 L76.84,295.17 L75.42,295.19 L74,295.39 L72.59,295.54 L71.3,295.56 L71.17,295.56 L69.75,295.53 L68.34,295.59 L66.92,295.98 L65.5,296.06 L64.08,295.91 L62.67,295.88 L61.25,296.23 L59.83,295.99 L58.42,296.39 L57,296.36Z" fill="#ff4b00"/>
<path d="M57,263.36 L58.42,263.51 L59.83,263.06 L61.25,264.11 L62.67,263.27 L64.08,263.69 L65.5,263.96 L66.92,263.98 L68.34,263.51 L69.75,263.29 L71.17,263.66 L72.59,263.09 L74,264.1 L75.42,263.45 L76.84,264.17 L78.25,263.37 L79.67,263.54 L81.09,263.39 L82.51,263.65 L83.92,263.33 L85.34,263.1 L86.76,264.12 L88.17,263.53 L89.59,263.5 L91.01,263.59 L92.43,263.86 L93,263.84 L93.84,263.82 L95.26,264.15 L96.68,264.22 L98.09,263.85 L99.51,264.68 L100.93,264.61 L102.34,263.54 L103.76,264.65 L105.18,264.8 L106.6,264.67 L107.6,264.06 L108.01,263.79 L109.43,264.75 L110.85,264.47 L112.26,263.6 L113.68,263.58 L115.1,264.89 L116.52,264.47 L117.93,263.9 L119.35,263.68 L120.77,263.73 L122.18,263.85 L123.6,264.6 L125.02,264 L126.43,263.72 L127,264.13 L127.85,264.18 L129.27,263.05 L130.5,261.45 L130.69,261.38 L132.1,262.77 L133.52,262.76 L134.94,263.38 L135,263.39 L136.35,263.27 L137.77,263.63 L139.19,263.52 L140.6,263.63 L142.02,262.77 L143.44,263.5 L144.85,263.32 L145.8,263.54 L146.27,263.46 L147.69,262.48 L148.9,262.55 L149.11,262.62 L150.52,262.02 L151.94,261.48 L153.36,261.3 L154.77,261.04 L156.19,261.4 L157.61,260.65 L159.03,261.09 L160.44,260.51 L161.86,260.86 L163.28,260.73 L164.69,260.66 L166.11,260.97 L166.8,260.32 L167.53,259.64 L168.94,260.68 L170.36,260.03 L171.78,260.03 L173.2,260.05 L174.61,260.17 L176.03,259.39 L177.45,259.32 L178.86,259.95 L180,258.85 L180.28,258.59 L181.7,259.27 L183.12,259.17 L184.53,258.22 L185.95,258.94 L187.37,258.94 L188.78,259.19 L190.2,258.25 L191.62,259.07 L193.03,258.31 L194.45,258.17 L195.87,258.65 L197.28,257.34 L198.7,258.2 L200.12,257.97 L201.54,257.47 L202.95,258.11 L204.37,257.31 L204.4,257.32 L205.79,257.33 L207.2,257.27 L208.62,257.48 L210.04,256.56 L211.46,256.74 L212.87,256.59 L214.29,256.64 L215.71,256.88 L217.12,256 L218.54,256.61 L219.96,255.89 L221.37,255.89 L222.79,255.43 L224.21,255.63 L225.63,256.15 L227.04,255.56 L228.46,255.62 L229.88,254.84 L231.29,254.69 L232.71,254.53 L234.13,254.79 L235.54,254.73 L236.96,254.8 L238.38,253.62 L239.8,254.45 L241.2,254.54 L241.21,254.54 L242.63,253.87 L244.05,252.99 L245.46,253.15 L246.88,252.55 L248.3,252.62 L249.72,253.45 L251.13,252.83 L252.55,252.71 L253.97,252.7 L255.38,252.68 L256.8,252.07 L258.22,251.89 L259.63,251.72 L261.05,251.62 L262.47,251.29 L263.88,251.22 L265.3,250.38 L266.72,250.83 L268.14,250.34 L269.55,250.58 L270.4,249.91 L270.97,249.49 L272.39,249.46 L273.8,249.13 L275.22,250.02 L276.64,250.08 L278.06,249.58 L279.47,249.05 L280.89,249.55 L282.31,249.36 L283.72,248.91 L285,248.4 L285.14,248.35 L286.56,248.29 L287.97,248.33 L289.39,248.07 L290.81,248.1 L292.23,248.27 L293.64,248.56 L295.06,247.21 L295.4,247.35 L296.2,243.95 L296.48,244.09 L297.89,243.31 L299.31,243.38 L300.73,244.3 L302.14,243.93 L303.56,244.37 L304.98,243.67 L306.4,243.02 L307.81,243.51 L309.23,243.75 L310,243.99 L310.65,244.19 L312.06,244.2 L313.48,243.44 L314.9,243.3 L315.6,243.06 L316.31,242.77 L317.73,243.38 L319.15,242.62 L320.57,242.39 L321.98,242.04 L323.4,241.88 L324.82,242.68 L326.23,241.74 L327.65,242.77 L329.07,241.4 L330.49,242.34 L331.9,241.15 L333.32,240.85 L334.74,241.68 L335.4,241.29 L336.15,240.91 L337.57,241.54 L338.99,240.72 L340.4,240.47 L341.82,241.42 L343.24,241.28 L344.65,241.42 L346.07,241.19 L347.49,240.23 L348.91,240.93 L350.32,240.99 L351.74,240.58 L352.7,240.99 L353.16,241.2 L354.57,240.25 L355.99,241.23 L357.41,240.88 L358.83,239.89 L360.24,239.89 L361.66,240.77 L363.08,241 L364.49,239.96 L365.91,240.28 L367.33,240.86 L368.75,240.06 L370.16,241.03 L371.58,240.5 L373,239.89 L374.41,240.32 L375,240.43 L375.83,240.62 L377.25,240.45 L378.66,240.81 L380.08,240.08 L381.5,241.02 L382.92,240.44 L384.33,240.85 L385.75,240.85 L387.17,240.58 L388.58,240.56 L390,241.14 L391.42,241.39 L392.83,241.18 L394.25,240.9 L395.67,240.54 L397.08,240.24 L398.5,241.54 L399.92,241.18 L400,241.19 L401.34,241.36 L402.75,240.66 L404.17,241.05 L405.59,241.57 L407,241.36 L408.42,241.04 L409.84,240.63 L411.25,240.8 L412.67,241.44 L414.09,240.73 L415.51,241.16 L416.92,241.04 L418.34,241.45 L419.76,241.33 L421.17,240.6 L422.59,240.2 L424.01,240.57 L425.43,240.79 L426.5,240.97 L426.84,241.03 L428.26,241.39 L429.68,241.53 L431.09,240.39 L432.51,241.54 L433.93,241.55 L435.35,241.67 L436.76,241.29 L438.18,240.92 L439.6,241.77 L441.01,241.74 L442.43,241.61 L443.85,241.97 L445.26,241.22 L446.68,240.9 L448.1,241.59 L449.51,241.97 L450.93,241.18 L452.35,241.99 L453.77,242.28 L455.18,241.35 L456.6,241.91 L458.02,242.05 L459.43,241.79 L460.85,241.47 L462.27,241.58 L463.69,242.31 L465,242.4 L465.1,242.41 L466.52,241.92 L467.94,241.39 L469.35,242.37 L470.77,242.31 L472.19,241.54 L473.6,242 L475.02,242.43 L476.44,242.4 L477.86,241.87 L479.27,241.79 L480.69,241.93 L482.11,241.35 L483.52,241.34 L484.94,241.3 L486.36,242.01 L487.77,241.52 L489.19,241.79 L490.61,241.54 L492.03,241.69 L493.44,241.15 L494.86,240.99 L496.28,242.3 L497.69,241.41 L499.11,241.02 L500.53,241.74 L501.94,241.94 L503.36,241.04 L504.78,241.64 L505,241.58 L506.2,241.43 L507.61,241.85 L509.03,241.32 L510.45,241.52 L511.86,243.03 L513.28,243.03 L514.7,242.67 L515.6,242.85 L516.12,242.34 L517.53,240.39 L518.95,239.6 L519.7,238.53 L520.37,238.22 L521.78,238.8 L523.2,238.39 L524.62,238.31 L526.03,238.36 L527.45,237.21 L528.87,236.76 L530.28,236.83 L531.7,236.65 L533.12,236.36 L534.4,236.18 L534.54,235.73 L535.95,231.79 L536.9,228.97 L537.37,228.92 L538.79,227.76 L540.2,227.85 L541.62,227.21 L543.04,225.44 L544.46,225.6 L545.87,224.73 L547.29,223.75 L548.71,224.34 L550.12,222.77 L551.54,222.61 L552.96,222.13 L554,222.02 L554.37,222.09 L555.79,221.52 L557.21,220.97 L558.63,220.88 L560.04,220.3 L561.46,221.26 L562.88,221.13 L564.29,219.88 L565.71,219.46 L567.13,219.6 L568.54,219.56 L569.96,220.16 L570.8,220.07 L571.38,219.96 L572.8,219.62 L574.21,218.26 L575.63,219.04 L577.05,218.68 L578.46,218.34 L579.88,218.57 L581.3,217.01 L581.5,217 L582.72,216.79 L584.13,217.28 L585.55,217.17 L586.97,216.44 L588.38,215.55 L588.5,215.55 L589.8,213.25 L590.1,212.68 L591.22,212.56 L592.63,211.26 L594.05,211.18 L595.47,210.7 L596.88,210.12 L598.3,210.24 L599.72,209.41 L600,209.36 L601.14,209.27 L602.55,208.94 L603.97,209.49 L605.39,208.36 L606.8,209.14 L608.22,208.21 L609.64,207.79 L611.05,208.83 L611.3,208.63 L612.47,207.78 L613.89,208.74 L615,208.63 L615.31,208.58 L616.72,208.48 L618.14,207.29 L619.56,207.58 L620.97,206.96 L622.39,207.98 L623.81,207.72 L625.23,207.29 L626.64,206.9 L628.06,206.61 L629.48,207.15 L630.89,206.52 L632.31,206.6 L632.5,206.49 L633.73,205.96 L635.14,206.14 L636.56,205.97 L637.98,206.96 L639.4,206.81 L640.81,206.3 L642.23,207.39 L643.65,206.61 L645,206.87 L645.06,206.95 L646.48,208.31 L647.4,209.52 L647.9,208.76 L649.32,207.21 L650,205.73 L650.73,205.35 L652.15,205.09 L653.57,205.51 L654.98,205.23 L656.4,206.02 L657.82,204.88 L659.23,206.06 L660.65,204.74 L662.07,205.88 L663.49,205.53 L664.9,204.86 L666.32,205.2 L667.6,204.93 L667.74,204.89 L669.15,204.76 L670.57,204.59 L671.99,204.73 L673.4,205.52 L674.82,205.44 L676.24,205.25 L677.65,204 L679.07,204.18 L680.2,204.78 L680.49,205.06 L681.91,204.39 L683.32,205.83 L684.7,205.73 L684.74,205.71 L686.16,206.56 L687.57,205.11 L688.99,206.11 L690.41,205.35 L691.83,204.96 L693.24,204.66 L694.66,205.72 L695.4,205.44 L696.08,204.78 L697.49,203.35 L698.91,202.74 L700,202.52 L700.33,202.65 L701.75,201.59 L703.16,201.99 L704.58,201.29 L706,201.25 L707.41,201.98 L708.83,201.81 L710.25,200.99 L710.5,200.95 L711.66,201.77 L713.08,202.95 L714.5,204.85 L715.1,205.28 L715.91,205.28 L717.33,205.11 L718.1,205.13 L718.75,206.73 L720.17,210.87 L720.4,211.48 L721.58,212.27 L723,213.24" fill="none" stroke="#5e5e5e" stroke-width="4" stroke-linejoin="round"/>
<text x="45.6" y="135.2" text-anchor="end" style="letter-spacing:0.3px">10 000</text>
<text x="45.6" y="162.1" text-anchor="end" style="letter-spacing:0.3px">8000</text>
<text x="45.6" y="189" text-anchor="end" style="letter-spacing:0.3px">6000</text>
<text x="45.6" y="215.9" text-anchor="end" style="letter-spacing:0.3px">4000</text>
<text x="45.6" y="242.8" text-anchor="end" style="letter-spacing:0.3px">2000</text>
<text x="45.6" y="269.7" text-anchor="end" style="letter-spacing:0.3px">0</text>
<text x="45.6" y="296.6" text-anchor="end" style="letter-spacing:0.3px">-2000</text>
<text x="45.6" y="323.5" text-anchor="end" style="letter-spacing:0.3px">-4000</text>
<text x="45.6" y="350.4" text-anchor="end" style="letter-spacing:0.3px">-6000</text>
<text x="45.6" y="377.3" text-anchor="end" style="letter-spacing:0.3px">-8000</text>
<text x="45.6" y="404.2" text-anchor="end" style="letter-spacing:0.3px">-10 000</text>
<text x="57" y="419.3" text-anchor="middle" style="letter-spacing:0.25px">01.14</text>
<text x="93.62" y="419.3" text-anchor="middle" style="letter-spacing:0.25px">07.14</text>
<text x="130.84" y="419.3" text-anchor="middle" style="letter-spacing:0.25px">01.15</text>
<text x="167.46" y="419.3" text-anchor="middle" style="letter-spacing:0.25px">07.15</text>
<text x="204.69" y="419.3" text-anchor="middle" style="letter-spacing:0.25px">01.16</text>
<text x="241.51" y="419.3" text-anchor="middle" style="letter-spacing:0.25px">07.16</text>
<text x="278.73" y="419.3" text-anchor="middle" style="letter-spacing:0.25px">01.17</text>
<text x="315.35" y="419.3" text-anchor="middle" style="letter-spacing:0.25px">07.17</text>
<text x="352.58" y="419.3" text-anchor="middle" style="letter-spacing:0.25px">01.18</text>
<text x="389.2" y="419.3" text-anchor="middle" style="letter-spacing:0.25px">07.18</text>
<text x="426.42" y="419.3" text-anchor="middle" style="letter-spacing:0.25px">01.19</text>
<text x="463.04" y="419.3" text-anchor="middle" style="letter-spacing:0.25px">07.19</text>
<text x="500.27" y="419.3" text-anchor="middle" style="letter-spacing:0.25px">01.20</text>
<text x="537.09" y="419.3" text-anchor="middle" style="letter-spacing:0.25px">07.20</text>
<text x="574.31" y="419.3" text-anchor="middle" style="letter-spacing:0.25px">01.21</text>
<text x="610.93" y="419.3" text-anchor="middle" style="letter-spacing:0.25px">07.21</text>
<text x="648.16" y="419.3" text-anchor="middle" style="letter-spacing:0.25px">01.22</text>
<text x="684.77" y="419.3" text-anchor="middle" style="letter-spacing:0.25px">07.22</text>
<text x="722" y="419.3" text-anchor="middle" style="letter-spacing:0.25px">01.23</text>
</svg></body></html>
